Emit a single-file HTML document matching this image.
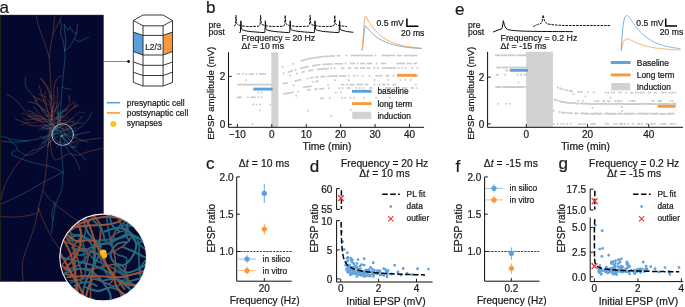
<!DOCTYPE html>
<html lang="en">
<head>
<meta charset="utf-8">
<title>Synaptic plasticity figure</title>
<style>
html,body{margin:0;padding:0;background:#fff;}
body{width:685px;height:307px;overflow:hidden;font-family:'Liberation Sans', sans-serif;}
svg{display:block;will-change:transform;}
svg text{font-family:'Liberation Sans', sans-serif;stroke:#1a1a1a;stroke-width:0.22px;}
</style>
</head>
<body>
<svg width="685" height="307" viewBox="0 0 685 307">
<rect width="685" height="307" fill="#fff"/>
<rect x="0" y="15.1" width="103.3" height="266.2" fill="#05082e" stroke="#02030f" stroke-width="0.5"/>
<rect x="0" y="15.1" width="0.9" height="266.2" fill="#22241f"/>
<clipPath id="ca"><rect x="0.9" y="15.2" width="102.4" height="266"/></clipPath>
<g clip-path="url(#ca)" fill="none" stroke-linecap="round" stroke-linejoin="round">
<path d="M60.5 128 C60.45 126.17 60.08 121.7 60.2 117 C60.32 112.3 60.85 104.82 61.2 99.8 C61.55 94.78 61.93 91.03 62.3 86.9 C62.67 82.77 63.08 78.48 63.4 75 C63.72 71.52 63.92 69 64.2 66 C64.48 63 65.02 59.58 65.1 57 C65.18 54.42 64.77 51.58 64.7 50.5" stroke="#2e90aa" stroke-width="0.5" fill="none" opacity="0.82"/>
<path d="M64.7 50.5 C64.42 48.72 63.72 42.67 63 39.8 C62.28 36.93 60.65 35.45 60.4 33.3 C60.15 31.15 61.5 29.05 61.5 26.9 C61.5 24.75 60.58 21.48 60.4 20.4" stroke="#2e90aa" stroke-width="0.5" fill="none" opacity="0.82"/>
<path d="M64.7 50.5 C64.88 49.08 65.8 45.22 65.8 42 C65.8 38.78 64.97 34.15 64.7 31.2 C64.43 28.25 64.28 25.45 64.2 24.3" stroke="#2e90aa" stroke-width="0.5" fill="none" opacity="0.82"/>
<path d="M64.7 50.5 C65.58 49.78 68.4 48.17 70 46.2 C71.6 44.23 73.22 40.85 74.3 38.7 C75.38 36.55 75.95 35.8 76.5 33.3 C77.05 30.8 77.42 25.3 77.6 23.7" stroke="#2e90aa" stroke-width="0.5" fill="none" opacity="0.82"/>
<path d="M74.3 38.7 C75.02 39.17 76.98 41.38 78.6 41.5 C80.22 41.62 82.32 40.12 84 39.4 C85.68 38.68 87.92 37.57 88.7 37.2" stroke="#2e90aa" stroke-width="0.5" fill="none" opacity="0.82"/>
<path d="M70 26.9 C69.65 27.43 68.87 30.53 67.9 30.1 C66.93 29.67 64.82 25.27 64.2 24.3" stroke="#2e90aa" stroke-width="0.5" fill="none" opacity="0.82"/>
<path d="M76.5 33.3 C76.03 33.13 74.78 33.3 73.7 32.3 C72.62 31.3 70.62 28.13 70 27.3" stroke="#2e90aa" stroke-width="0.5" fill="none" opacity="0.82"/>
<path d="M62.3 86.9 C62.92 87.18 64.57 88.25 66 88.6 C67.43 88.95 70.08 88.93 70.9 89" stroke="#2e90aa" stroke-width="0.5" fill="none" opacity="0.82"/>
<path d="M25.8 77.2 C25.73 78.45 24.87 82.37 25.4 84.7 C25.93 87.03 27.5 89.05 29 91.2 C30.5 93.35 32.62 95.1 34.4 97.6 C36.18 100.1 37.73 103.33 39.7 106.2 C41.67 109.07 44.05 111.75 46.2 114.8 C48.35 117.85 50.63 121.97 52.6 124.5 C54.57 127.03 57.1 129.08 58 130" stroke="#2e90aa" stroke-width="0.5" fill="none" opacity="0.82"/>
<path d="M27.9 115.9 C29.33 116.25 33.98 116.75 36.5 118 C39.02 119.25 40.42 121.57 43 123.4 C45.58 125.23 50.5 128.07 52 129" stroke="#2e90aa" stroke-width="0.5" fill="none" opacity="0.82"/>
<path d="M0 136.3 C1.07 136.48 4.25 136.87 6.4 137.4 C8.55 137.93 9.3 138.98 12.9 139.5 C16.5 140.02 22.65 140.92 28 140.5 C33.35 140.08 40 138.25 45 137 C50 135.75 55.83 133.67 58 133" stroke="#2e90aa" stroke-width="0.5" fill="none" opacity="0.82"/>
<path d="M0 140.9 C2.38 141.13 9.52 142.3 14.3 142.3 C19.08 142.3 26.3 141.13 28.7 140.9" stroke="#2e90aa" stroke-width="0.5" fill="none" opacity="0.82"/>
<path d="M8.6 139.4 C10.03 140.83 16.72 145.6 17.2 148 C17.68 150.4 10.55 151.88 11.5 153.8 C12.45 155.72 18.62 157.83 22.9 159.5 C27.18 161.17 32.42 162.6 37.2 163.8 C41.98 165 47.3 165.27 51.6 166.7 C55.9 168.13 61.1 171.45 63 172.4" stroke="#2e90aa" stroke-width="0.5" fill="none" opacity="0.82"/>
<path d="M63 172.4 C59.67 174.07 49.68 178.82 43 182.4 C36.32 185.98 30.07 190.22 22.9 193.9 C15.73 197.58 3.82 202.73 0 204.5" stroke="#2e90aa" stroke-width="0.5" fill="none" opacity="0.82"/>
<path d="M60 138 C60.27 140.38 61.1 146.57 61.6 152.3 C62.1 158.03 63 166.18 63 172.4 C63 178.62 62.78 184.35 61.6 189.6 C60.42 194.85 57.33 198.65 55.9 203.9 C54.47 209.15 53.48 218.23 53 221.1" stroke="#2e90aa" stroke-width="0.5" fill="none" opacity="0.82"/>
<path d="M54.8 201.4 C54.33 203.45 52.37 210.28 52 213.7 C51.63 217.12 52.68 218.7 52.6 221.9 C52.52 225.1 51.68 231.07 51.5 232.9" stroke="#2e90aa" stroke-width="0.5" fill="none" opacity="0.82"/>
<path d="M58 136 C55.83 137.67 49.88 142.8 45 146 C40.12 149.2 33.37 154.53 28.7 155.2 C24.03 155.87 18.95 150.87 17 150" stroke="#2e90aa" stroke-width="0.5" fill="none" opacity="0.82"/>
<path d="M82.1 116.5 C81.35 117.4 79.25 120.27 77.6 121.9 C75.95 123.53 73.98 124.97 72.2 126.3 C70.42 127.63 68.77 128.95 66.9 129.9 C65.03 130.85 61.98 131.65 61 132" stroke="#2e90aa" stroke-width="0.5" fill="none" opacity="0.82"/>
<path d="M90.1 131.7 C88.62 132 83.88 132.9 81.2 133.5 C78.52 134.1 77.03 135.22 74 135.3 C70.97 135.38 64.83 134.22 63 134" stroke="#2e90aa" stroke-width="0.5" fill="none" opacity="0.82"/>
<path d="M88.3 142.4 C86.97 141.97 82.83 140.68 80.3 139.8 C77.77 138.92 75.98 137.9 73.1 137.1 C70.22 136.3 64.68 135.35 63 135" stroke="#2e90aa" stroke-width="0.5" fill="none" opacity="0.82"/>
<path d="M62 136 C63.33 137.67 67 143 70 146 C73 149 77.33 151.67 80 154 C82.67 156.33 85 159 86 160" stroke="#2e90aa" stroke-width="0.5" fill="none" opacity="0.82"/>
<path d="M64 134 C66 133.33 72.33 132 76 130 C79.67 128 83.33 125 86 122 C88.67 119 91 113.67 92 112" stroke="#2e90aa" stroke-width="0.5" fill="none" opacity="0.82"/>
<path d="M63 138 C63.83 140 65.83 146.33 68 150 C70.17 153.67 74 156.67 76 160 C78 163.33 79.33 168.33 80 170" stroke="#2e90aa" stroke-width="0.5" fill="none" opacity="0.82"/>
<path d="M50.91 141.05 L49.3 142.96 L48.49 145.33" stroke="#2e90aa" stroke-width="0.42" fill="none" opacity="0.82"/>
<path d="M55.21 132.21 L53.53 134.06 L52.58 136.37 L51.46 138.61 L50.91 141.05" stroke="#2e90aa" stroke-width="0.42" fill="none" opacity="0.82"/>
<path d="M61.58 132.05 L59.82 130.27 L58.17 128.39 L56.37 126.66 L54.05 125.72 L51.6 125.21 L49.12 125.49 L46.65 125.11 L44.21 124.56" stroke="#2e90aa" stroke-width="0.42" fill="none" opacity="0.82"/>
<path d="M58.38 127.5 L56.47 129.12 L54.57 130.74 L52.62 132.3 L50.72 133.93" stroke="#2e90aa" stroke-width="0.42" fill="none" opacity="0.82"/>
<path d="M55.99 128.44 L54.82 130.65 L53.52 132.78 L52.17 134.89 L50.44 136.69 L48.14 137.68 L45.92 138.82 L44.12 140.55 L43.1 142.84 L41.61 144.84 L39.57 146.29" stroke="#2e90aa" stroke-width="0.42" fill="none" opacity="0.82"/>
<path d="M58.75 131.64 L57.13 129.74 L54.97 128.49 L52.6 127.68 L50.1 127.76 L47.65 128.25 L45.15 128.36 L42.68 128.01" stroke="#2e90aa" stroke-width="0.42" fill="none" opacity="0.82"/>
<path d="M60.24 142.13 L57.94 143.11 L55.46 143.45" stroke="#2e90aa" stroke-width="0.42" fill="none" opacity="0.82"/>
<path d="M61.53 129.84 L60.82 132.24 L61.02 134.73 L60.67 137.21 L60.84 139.7 L60.24 142.13 L58.94 144.26 L57.79 146.48 L55.99 148.22" stroke="#2e90aa" stroke-width="0.42" fill="none" opacity="0.82"/>
<path d="M55.41 128.86 L57.56 130.14 L59.27 131.96 L61.4 133.27 L63.82 133.89 L66.17 134.73" stroke="#2e90aa" stroke-width="0.42" fill="none" opacity="0.82"/>
<path d="M72.04 147.29 L74.4 146.47 L76.3 144.84 L77.36 142.58" stroke="#2e90aa" stroke-width="0.42" fill="none" opacity="0.82"/>
<path d="M60.87 134.6 L62.36 136.62 L64.47 137.95 L66.03 139.9 L66.91 142.24 L67.99 144.49 L69.76 146.27 L72.04 147.29 L74.53 147.5 L76.91 146.74" stroke="#2e90aa" stroke-width="0.42" fill="none" opacity="0.82"/>
<path d="M55.19 129.02 L53.45 127.22 L51.68 125.46 L49.43 124.36 L47.8 122.46 L45.89 120.85 L44.36 118.87" stroke="#2e90aa" stroke-width="0.42" fill="none" opacity="0.82"/>
<path d="M59.54 131.13 L57.11 130.53 L54.7 129.86 L52.2 129.93 L49.92 130.97 L47.43 131.03" stroke="#2e90aa" stroke-width="0.42" fill="none" opacity="0.82"/>
<path d="M56.09 129.93 L54.98 127.69 L53.39 125.77 L51.86 123.79 L50.57 121.65 L49.83 119.26" stroke="#2e90aa" stroke-width="0.42" fill="none" opacity="0.82"/>
<path d="M60.17 136.37 L62.66 136.1 L65.15 136.23 L67.42 137.29 L69.15 139.1 L70.09 141.42" stroke="#2e90aa" stroke-width="0.42" fill="none" opacity="0.82"/>
<path d="M55.92 130.21 L57.27 132.3 L58.6 134.42 L60.17 136.37 L62.16 137.89 L64.46 138.86 L66.65 140.07 L68.4 141.85 L69.92 143.84 L72.02 145.19 L73.55 147.17" stroke="#2e90aa" stroke-width="0.42" fill="none" opacity="0.82"/>
<path d="M58.02 113.66 L60.22 112.47 L62.51 111.46 L64.77 110.4 L66.64 108.74" stroke="#2e90aa" stroke-width="0.42" fill="none" opacity="0.82"/>
<path d="M57.82 128.43 L58.11 125.94 L57.54 123.51 L57.89 121.04 L58.17 118.55 L57.58 116.12 L58.02 113.66 L57.47 111.22 L57.38 108.73 L57.82 106.26 L59.19 104.18" stroke="#2e90aa" stroke-width="0.42" fill="none" opacity="0.82"/>
<path d="M54.22 128.7 L55.55 126.58 L57.03 124.57 L58.08 122.3 L58.38 119.82 L58.38 117.32 L58.55 114.82 L58.55 112.32 L58.56 109.82" stroke="#2e90aa" stroke-width="0.42" fill="none" opacity="0.82"/>
<path d="M54.15 130.52 L51.72 129.93 L49.49 128.8 L47.03 128.36 L44.63 127.67 L42.14 127.9" stroke="#2e90aa" stroke-width="0.42" fill="none" opacity="0.82"/>
<path d="M49.81 138.45 L49.2 140.88 L48.68 143.32 L48.1 145.75 L46.67 147.81" stroke="#2e90aa" stroke-width="0.42" fill="none" opacity="0.82"/>
<path d="M57.86 133.21 L55.4 133.66 L53.14 134.72 L51.44 136.55 L49.81 138.45 L47.68 139.75 L45.85 141.45 L43.52 142.37 L41.58 143.95" stroke="#2e90aa" stroke-width="0.42" fill="none" opacity="0.82"/>
<path d="M54.58 128.93 L52.52 130.35 L50.73 132.09 L49.57 134.3 L47.69 135.95" stroke="#2e90aa" stroke-width="0.42" fill="none" opacity="0.82"/>
<path d="M56.02 128.1 L54.84 130.3 L52.92 131.9 L51.15 133.66 L48.82 134.57 L46.83 136.09 L44.83 137.59 L43.27 139.54" stroke="#2e90aa" stroke-width="0.42" fill="none" opacity="0.82"/>
<path d="M57.99 118.16 L60.32 117.24 L62.25 115.66" stroke="#2e90aa" stroke-width="0.42" fill="none" opacity="0.82"/>
<path d="M54.16 131.43 L54.15 128.93 L53.89 126.45 L53.67 123.95 L54.41 121.57 L55.93 119.58 L57.99 118.16 L59.95 116.61" stroke="#2e90aa" stroke-width="0.42" fill="none" opacity="0.82"/>
<path d="M59.56 121.64 L58.39 119.44 L56.43 117.88 L54.07 117.07 L51.78 116.05 L49.35 115.5 L46.89 115.97" stroke="#2e90aa" stroke-width="0.42" fill="none" opacity="0.82"/>
<path d="M61.03 116.87 L59.38 114.99 L57.3 113.61 L55.83 111.58" stroke="#2e90aa" stroke-width="0.42" fill="none" opacity="0.82"/>
<path d="M56.07 128.19 L57.25 125.99 L58.79 124.02 L59.56 121.64 L60.18 119.22 L61.03 116.87 L61.95 114.54 L62.76 112.18 L63.1 109.7" stroke="#2e90aa" stroke-width="0.42" fill="none" opacity="0.82"/>
<path d="M54.3 127.15 L56.8 127.17 L59.22 126.54 L61.62 125.87 L63.68 124.45 L65.65 122.91 L67.97 121.98 L70.3 121.07 L72.8 121.14" stroke="#2e90aa" stroke-width="0.42" fill="none" opacity="0.82"/>
<path d="M66.58 130.11 L68.96 130.88 L71.03 132.29 L72.56 134.26 L74.43 135.92 L76.56 137.23" stroke="#2e90aa" stroke-width="0.42" fill="none" opacity="0.82"/>
<path d="M59.65 132.09 L61.66 130.59 L64.08 130 L66.58 130.11 L69.01 129.51 L71.27 128.45 L73.77 128.33 L76.18 127.69" stroke="#2e90aa" stroke-width="0.42" fill="none" opacity="0.82"/>
<path d="M51.6 120 C51.6 116.63 51.78 106.47 51.6 99.8 C51.42 93.13 50.8 85.3 50.5 80 C50.2 74.7 50.02 71.83 49.8 68 C49.58 64.17 49.3 58.83 49.2 57" stroke="#ae5f3b" stroke-width="0.5" fill="none" opacity="0.82"/>
<path d="M49.2 57 C48.38 54.48 46.02 46.92 44.3 41.9 C42.58 36.88 40.23 31.27 38.9 26.9 C37.57 22.53 36.73 17.57 36.3 15.7" stroke="#ae5f3b" stroke-width="0.5" fill="none" opacity="0.82"/>
<path d="M49.2 57 C49.57 54.48 50.78 45.67 51.4 41.9 C52.02 38.13 52.37 38.7 52.9 34.4 C53.43 30.1 54.32 19.15 54.6 16.1" stroke="#ae5f3b" stroke-width="0.5" fill="none" opacity="0.82"/>
<path d="M52.9 34.4 C53.78 32.62 56.77 26.82 58.2 23.7 C59.63 20.58 60.95 17.03 61.5 15.7" stroke="#ae5f3b" stroke-width="0.5" fill="none" opacity="0.82"/>
<path d="M40 78 C40.67 78.83 42.67 81 44 83 C45.33 85 46.87 87.5 48 90 C49.13 92.5 50.33 96.67 50.8 98" stroke="#ae5f3b" stroke-width="0.5" fill="none" opacity="0.82"/>
<path d="M61.5 75.9 C60.95 76.15 59.32 76.1 58.2 77.4 C57.08 78.7 55.55 81.05 54.8 83.7 C54.05 86.35 53.82 90.25 53.7 93.3 C53.58 96.35 54.3 98.88 54.1 102 C53.9 105.12 52.77 110.33 52.5 112" stroke="#ae5f3b" stroke-width="0.5" fill="none" opacity="0.82"/>
<path d="M6.4 94.4 C7.48 94.93 10.57 95.8 12.9 97.6 C15.23 99.4 17.9 102.52 20.4 105.2 C22.9 107.88 25.22 111.2 27.9 113.7 C30.58 116.2 32.82 118.82 36.5 120.2 C40.18 121.58 47.75 121.7 50 122" stroke="#ae5f3b" stroke-width="0.5" fill="none" opacity="0.82"/>
<path d="M15.5 119.1 C16.85 119.63 20.82 121.22 23.6 122.3 C26.38 123.38 28.13 124.98 32.2 125.6 C36.27 126.22 45.37 125.93 48 126" stroke="#ae5f3b" stroke-width="0.5" fill="none" opacity="0.82"/>
<path d="M39.3 85.8 C39.73 87.42 40.75 92.1 41.9 95.5 C43.05 98.9 44.95 102.62 46.2 106.2 C47.45 109.78 48.87 115.2 49.4 117" stroke="#ae5f3b" stroke-width="0.5" fill="none" opacity="0.82"/>
<path d="M40.8 78.3 C41.7 79.37 44.77 82.55 46.2 84.7 C47.63 86.85 48.5 88.68 49.4 91.2 C50.3 93.72 51.23 98.37 51.6 99.8" stroke="#ae5f3b" stroke-width="0.5" fill="none" opacity="0.82"/>
<path d="M29 102 C30.25 102.33 34.17 102.75 36.5 104 C38.83 105.25 41.03 107.5 43 109.5 C44.97 111.5 47.42 114.92 48.3 116" stroke="#ae5f3b" stroke-width="0.5" fill="none" opacity="0.82"/>
<path d="M33.3 106.2 C34.2 107.28 36.73 110.55 38.7 112.7 C40.67 114.85 44.03 118.03 45.1 119.1" stroke="#ae5f3b" stroke-width="0.5" fill="none" opacity="0.82"/>
<path d="M57 87 C57.17 88.42 58.12 92.3 58 95.5 C57.88 98.7 57.05 102.78 56.3 106.2 C55.55 109.62 53.97 114.37 53.5 116" stroke="#ae5f3b" stroke-width="0.5" fill="none" opacity="0.82"/>
<path d="M74 102 C73.13 102.7 70.75 104.6 68.8 106.2 C66.85 107.8 64.45 109.63 62.3 111.6 C60.15 113.57 56.97 116.93 55.9 118" stroke="#ae5f3b" stroke-width="0.5" fill="none" opacity="0.82"/>
<path d="M77.6 104.8 C76.7 105.4 73.98 106.9 72.2 108.4 C70.42 109.9 68.68 112 66.9 113.8 C65.12 115.6 63.15 117.57 61.5 119.2 C59.85 120.83 57.75 122.87 57 123.6" stroke="#ae5f3b" stroke-width="0.5" fill="none" opacity="0.82"/>
<path d="M83 122.8 C81.8 122.93 77.9 123.02 75.8 123.6 C73.7 124.18 72.2 125.4 70.4 126.3 C68.6 127.2 67.4 129.05 65 129 C62.6 128.95 57.5 126.5 56 126" stroke="#ae5f3b" stroke-width="0.5" fill="none" opacity="0.82"/>
<path d="M101.8 138 C100.45 138.15 96.53 138.55 93.7 138.9 C90.87 139.25 88.08 139.6 84.8 140.1 C81.52 140.6 76.98 141.22 74 141.9 C71.02 142.58 69.9 144.52 66.9 144.2 C63.9 143.88 58.48 142.37 56 140 C53.52 137.63 52.67 131.67 52 130" stroke="#ae5f3b" stroke-width="0.5" fill="none" opacity="0.82"/>
<path d="M50 128 C49.75 130.33 48.95 137.47 48.5 142 C48.05 146.53 47.75 150.13 47.3 155.2 C46.85 160.27 46.52 166.67 45.8 172.4 C45.08 178.13 44.18 183.87 43 189.6 C41.82 195.33 40.17 200.5 38.7 206.8 C37.23 213.1 36.08 220.77 34.2 227.4 C32.32 234.03 29.35 240.67 27.4 246.6 C25.45 252.53 23.18 257.18 22.5 263 C21.82 268.82 23.17 278.42 23.3 281.5" stroke="#ae5f3b" stroke-width="0.5" fill="none" opacity="0.82"/>
<path d="M49 135 C48 136.93 45.92 143.95 43 146.6 C40.08 149.25 35.33 148.52 31.5 150.9 C27.67 153.28 23.33 157.32 20 160.9 C16.67 164.48 14.12 168.1 11.5 172.4 C8.88 176.7 6.07 182.17 4.3 186.7 C2.53 191.23 1.47 197.45 0.9 199.6" stroke="#ae5f3b" stroke-width="0.5" fill="none" opacity="0.82"/>
<path d="M50 140 C50.73 143.25 51.27 157.2 54.4 159.5 C57.53 161.8 64.97 154.52 68.8 153.8 C72.63 153.08 74.53 155.45 77.4 155.2 C80.27 154.95 82.67 153.25 86 152.3 C89.33 151.35 94.4 150.22 97.4 149.5 C100.4 148.78 102.9 148.25 104 148" stroke="#ae5f3b" stroke-width="0.5" fill="none" opacity="0.82"/>
<path d="M43 191 C44.67 192.92 49.18 198.92 53 202.5 C56.82 206.08 62.08 209.63 65.9 212.5 C69.72 215.37 72.55 217.45 75.9 219.7 C79.25 221.95 84.32 224.95 86 226" stroke="#ae5f3b" stroke-width="0.5" fill="none" opacity="0.82"/>
<path d="M0 216.6 C2.73 216.67 11.38 217.25 16.4 217 C21.42 216.75 26.53 215.88 30.1 215.1 C33.67 214.32 36.37 213.45 37.8 212.3 C39.23 211.15 38.55 208.88 38.7 208.2" stroke="#ae5f3b" stroke-width="0.5" fill="none" opacity="0.82"/>
<path d="M38.4 208.2 C39.3 210.48 41.75 217.33 43.8 221.9 C45.85 226.47 48.18 231.25 50.7 235.6 C53.22 239.95 56.35 244.6 58.9 248 C61.45 251.4 64.82 254.67 66 256" stroke="#ae5f3b" stroke-width="0.5" fill="none" opacity="0.82"/>
<path d="M50.78 119.01 L48.87 117.4 L46.72 116.12 L44.73 114.61 L43.08 112.73 L41.89 110.53 L40.85 108.26 L39.49 106.16 L37.57 104.56 L36.11 102.52 L35.29 100.17 L34.63 97.75 L34.35 95.27" stroke="#ae5f3b" stroke-width="0.4" fill="none" opacity="0.72"/>
<path d="M38.54 98.75 L36.44 100.09 L34.84 102.02 L32.73 103.36" stroke="#ae5f3b" stroke-width="0.4" fill="none" opacity="0.72"/>
<path d="M45.53 101.19 L43.3 100.06 L41.03 99.02 L38.54 98.75 L36.24 97.79 L33.95 96.78" stroke="#ae5f3b" stroke-width="0.4" fill="none" opacity="0.72"/>
<path d="M52.09 119.87 L50.93 117.65 L50.3 115.24 L49.06 113.06 L47.83 110.89 L47.1 108.5 L46.52 106.06 L46.27 103.58 L45.53 101.19 L44.76 98.81 L44.59 96.32 L44.88 93.83 L45.44 91.4" stroke="#ae5f3b" stroke-width="0.4" fill="none" opacity="0.72"/>
<path d="M56.64 122.64 L58.66 121.17 L60.23 119.23 L61.77 117.26 L63.89 115.92 L65.68 114.19 L67.72 112.74" stroke="#ae5f3b" stroke-width="0.4" fill="none" opacity="0.72"/>
<path d="M49.38 124.46 L51.74 123.64 L54.16 123.01 L56.64 122.64 L59.1 122.21 L61.56 122.66 L64.06 122.77 L66.55 122.84 L68.96 122.15 L71.45 122.34 L73.95 122.33" stroke="#ae5f3b" stroke-width="0.4" fill="none" opacity="0.72"/>
<path d="M64.18 120.43 L65.83 118.56 L67.77 116.98" stroke="#ae5f3b" stroke-width="0.4" fill="none" opacity="0.72"/>
<path d="M49.37 119.54 L51.87 119.68 L54.31 119.15 L56.81 119.2 L59.2 119.94 L61.69 120.2 L64.18 120.43 L66.68 120.52 L69.11 119.93 L71.44 119.04 L73.71 117.98" stroke="#ae5f3b" stroke-width="0.4" fill="none" opacity="0.72"/>
<path d="M39.14 116.02 L36.71 115.39 L34.21 115.39 L31.86 114.56 L29.41 114.05" stroke="#ae5f3b" stroke-width="0.4" fill="none" opacity="0.72"/>
<path d="M49.06 123.44 L46.94 122.11 L44.73 120.95 L43.07 119.08 L41.23 117.39 L39.14 116.02 L37.37 114.25 L35.12 113.16 L32.79 112.25 L30.5 111.24 L28.02 110.96" stroke="#ae5f3b" stroke-width="0.4" fill="none" opacity="0.72"/>
<path d="M49.81 97.59 L51.82 96.1 L54.22 95.4" stroke="#ae5f3b" stroke-width="0.4" fill="none" opacity="0.72"/>
<path d="M52.07 119.83 L51.39 117.43 L51.43 114.93 L51.56 112.43 L51.54 109.93 L51.09 107.47 L50.9 104.98 L50.26 102.57 L49.91 100.09 L49.81 97.59 L49.63 95.1" stroke="#ae5f3b" stroke-width="0.4" fill="none" opacity="0.72"/>
<path d="M49.45 121.05 L47.28 119.82 L44.99 118.81 L42.99 117.31 L40.6 116.59 L38.15 116.06 L35.65 116.06 L33.19 115.6" stroke="#ae5f3b" stroke-width="0.4" fill="none" opacity="0.72"/>
<path d="M50.8 123.12 L50.63 120.63 L51.16 118.18 L51.5 115.71 L51.71 113.22 L52.47 110.84 L52.58 108.34 L53.15 105.9 L54.5 103.8 L55.15 101.38" stroke="#ae5f3b" stroke-width="0.4" fill="none" opacity="0.72"/>
<path d="M69.77 99.77 L69.06 97.37 L67.55 95.38" stroke="#ae5f3b" stroke-width="0.4" fill="none" opacity="0.72"/>
<path d="M65.04 111.05 L66.63 109.12 L67.93 106.98 L68.61 104.58 L69.53 102.25 L69.77 99.77 L70.08 97.29 L69.99 94.79" stroke="#ae5f3b" stroke-width="0.4" fill="none" opacity="0.72"/>
<path d="M74.32 107.6 L74.77 105.14 L74.73 102.64" stroke="#ae5f3b" stroke-width="0.4" fill="none" opacity="0.72"/>
<path d="M51.64 121.81 L53.88 120.7 L55.72 119.01 L57.09 116.92 L58.72 115.02 L60.63 113.41 L62.82 112.19 L65.04 111.05 L67.48 110.49 L69.92 109.97 L72.06 108.67 L74.32 107.6 L76.52 106.41 L78.71 105.22" stroke="#ae5f3b" stroke-width="0.4" fill="none" opacity="0.72"/>
<path d="M50.81 121.38 L52.73 119.77 L54.89 118.51 L57.05 117.27 L59.51 116.81 L62.01 116.92 L64.48 116.54" stroke="#ae5f3b" stroke-width="0.4" fill="none" opacity="0.72"/>
<path d="M45.84 110.59 L43.48 109.78 L41.43 108.35" stroke="#ae5f3b" stroke-width="0.4" fill="none" opacity="0.72"/>
<path d="M51.98 114.76 L49.73 113.66 L47.98 111.88 L45.84 110.59 L43.94 108.97 L42.62 106.85 L40.86 105.07" stroke="#ae5f3b" stroke-width="0.4" fill="none" opacity="0.72"/>
<path d="M52.3 112.28 L54.27 110.74 L55.73 108.72 L56.53 106.34" stroke="#ae5f3b" stroke-width="0.4" fill="none" opacity="0.72"/>
<path d="M53.76 121.97 L52.94 119.61 L52.1 117.26 L51.98 114.76 L52.3 112.28 L52.48 109.79 L52.77 107.3 L52.84 104.81 L52.57 102.32" stroke="#ae5f3b" stroke-width="0.4" fill="none" opacity="0.72"/>
<path d="M45.15 119.16 L42.94 117.99 L40.47 117.61 L38 118.01 L35.64 118.84 L33.15 118.96 L30.7 119.49 L28.22 119.82 L25.72 119.75" stroke="#ae5f3b" stroke-width="0.4" fill="none" opacity="0.72"/>
<path d="M28.55 122.73 L26.98 120.79 L25.17 119.06 L23.16 117.57" stroke="#ae5f3b" stroke-width="0.4" fill="none" opacity="0.72"/>
<path d="M42.67 118.83 L40.55 120.16 L38.26 121.15 L35.99 122.2 L33.55 122.75 L31.05 122.74 L28.55 122.73 L26.06 122.98 L23.76 123.95 L21.32 124.5" stroke="#ae5f3b" stroke-width="0.4" fill="none" opacity="0.72"/>
<path d="M40.21 119.28 L38.11 117.92 L36.61 115.92 L34.8 114.2 L32.57 113.07 L30.53 111.62 L28.25 110.59" stroke="#ae5f3b" stroke-width="0.4" fill="none" opacity="0.72"/>
<path d="M52.53 120.17 L50.04 119.91 L47.54 119.89 L45.15 119.16 L42.67 118.83 L40.21 119.28 L37.72 119.51 L35.23 119.3 L32.78 118.8 L30.53 117.71 L28.33 116.52 L26.37 114.97 L24.16 113.8 L21.73 113.22" stroke="#ae5f3b" stroke-width="0.4" fill="none" opacity="0.72"/>
<path d="M50.63 121.38 L51.23 118.95 L51.35 116.45 L52.02 114.04 L53.48 112.01 L54.9 109.96 L56.78 108.31 L58.02 106.14 L58.63 103.71 L60.01 101.63" stroke="#ae5f3b" stroke-width="0.4" fill="none" opacity="0.72"/>
<path d="M65.07 126.96 L67.44 126.15 L69.72 125.12 L72.08 124.3 L74.09 122.81 L75.49 120.74" stroke="#ae5f3b" stroke-width="0.4" fill="none" opacity="0.72"/>
<path d="M58.29 123.99 L60.48 125.21 L62.93 125.67 L65.07 126.96 L67.22 128.24 L69.44 129.38 L71.52 130.78 L73.56 132.22 L75.7 133.51 L77.27 135.46" stroke="#ae5f3b" stroke-width="0.4" fill="none" opacity="0.72"/>
<path d="M60.79 124.14 L62.29 126.14 L62.99 128.54 L63.93 130.85 L64.47 133.29 L65.84 135.39 L67.31 137.41 L68.91 139.33 L70.57 141.2 L72.77 142.39 L74.84 143.79" stroke="#ae5f3b" stroke-width="0.4" fill="none" opacity="0.72"/>
<path d="M79.38 112.21 L81.88 112.21 L84.3 112.84" stroke="#ae5f3b" stroke-width="0.4" fill="none" opacity="0.72"/>
<path d="M50.86 124.2 L53.31 123.7 L55.81 123.7 L58.29 123.99 L60.79 124.14 L63.22 123.55 L65.58 122.74 L67.67 121.36 L69.77 120.01 L71.42 118.12 L73.43 116.65 L75.08 114.77 L77.24 113.5 L79.38 112.21" stroke="#ae5f3b" stroke-width="0.4" fill="none" opacity="0.72"/>
<path d="M50.08 105.51 L47.82 104.44 L45.64 103.21 L43.51 101.9 L41.22 100.9 L38.99 99.76 L36.91 98.38" stroke="#ae5f3b" stroke-width="0.4" fill="none" opacity="0.72"/>
<path d="M49.67 103.04 L51.2 101.07 L53.1 99.44 L54.95 97.75 L56.76 96.03" stroke="#ae5f3b" stroke-width="0.4" fill="none" opacity="0.72"/>
<path d="M45.33 97.01 L43.29 95.57 L41.25 94.12" stroke="#ae5f3b" stroke-width="0.4" fill="none" opacity="0.72"/>
<path d="M52.07 120.18 L52.41 117.7 L52.25 115.21 L51.9 112.73 L51.35 110.29 L50.37 107.99 L50.08 105.51 L49.67 103.04 L48.63 100.77 L46.97 98.9 L45.33 97.01 L43.18 95.74 L40.92 94.67 L38.46 94.21" stroke="#ae5f3b" stroke-width="0.4" fill="none" opacity="0.72"/>
<path d="M52.89 126.89 L50.67 128.04 L48.22 128.53 L45.87 129.39 L43.4 129.73 L40.9 129.68" stroke="#ae5f3b" stroke-width="0.4" fill="none" opacity="0.7"/>
<path d="M52.16 123.51 L49.83 124.42 L47.68 125.7 L45.3 126.45 L42.91 127.2 L40.74 128.43 L38.56 129.66" stroke="#ae5f3b" stroke-width="0.4" fill="none" opacity="0.7"/>
<path d="M49.59 122.97 L51.86 124.01 L53.75 125.65 L55.97 126.8 L58.42 127.29 L60.81 128.02 L62.92 129.37" stroke="#ae5f3b" stroke-width="0.4" fill="none" opacity="0.7"/>
<path d="M44.54 136.97 L42.04 137 L39.57 136.58" stroke="#ae5f3b" stroke-width="0.4" fill="none" opacity="0.7"/>
<path d="M53.8 122.63 L53.03 125.01 L52.44 127.44 L51.35 129.69 L49.55 131.42 L47.93 133.33 L46.39 135.3 L44.54 136.97 L43.05 138.98" stroke="#ae5f3b" stroke-width="0.4" fill="none" opacity="0.7"/>
<path d="M51.12 131.66 L53.18 133.07 L55.38 134.25" stroke="#ae5f3b" stroke-width="0.4" fill="none" opacity="0.7"/>
<path d="M51.01 124.18 L50.81 126.68 L51.1 129.16 L51.12 131.66 L51.63 134.11" stroke="#ae5f3b" stroke-width="0.4" fill="none" opacity="0.7"/>
<path d="M51.35 135.53 L53.55 136.72 L55.92 137.52" stroke="#ae5f3b" stroke-width="0.4" fill="none" opacity="0.7"/>
<path d="M49.73 125.74 L49.73 128.24 L50.59 130.59 L50.92 133.07 L51.35 135.53 L52.59 137.7 L53.74 139.92 L54.65 142.25" stroke="#ae5f3b" stroke-width="0.4" fill="none" opacity="0.7"/>
<circle cx="62.7" cy="134.6" r="10.8" stroke="#e9e9f2" stroke-width="0.7"/>
<circle cx="62.0" cy="135.8" r="0.9" fill="#f4c022" stroke="none"/>
</g>
<clipPath id="ci"><circle cx="103.2" cy="257.5" r="43.4"/></clipPath>
<circle cx="103.2" cy="257.5" r="43.4" fill="#070a31"/>
<g clip-path="url(#ci)" fill="none" stroke-linecap="round" stroke-linejoin="round">
<path d="M148.99 286.12 C145.93 285.97 135.1 287.45 130.65 285.26 C126.19 283.07 128.31 277.32 122.26 272.98 C116.2 268.63 101.52 264.23 94.32 259.19 C87.12 254.14 83.58 245.88 79.05 242.68 C74.52 239.49 69.13 240.45 67.15 240.01" stroke="#215f76" stroke-width="1.6180240448687173" fill="none" />
<path d="M133.75 215.81 C130.85 218.06 120.09 224.46 116.32 229.29 C112.55 234.11 113.78 242.93 111.14 244.77 C108.49 246.62 105.43 237.32 100.47 240.35 C95.51 243.39 87.17 257.97 81.36 262.99 C75.55 268.01 68.24 269.24 65.62 270.49" stroke="#215f76" stroke-width="1.9637378157140302" fill="none" />
<path d="M151.33 282.73 C149.51 281.69 142.5 280 140.44 276.45 C138.39 272.91 139.47 267.62 139 261.46 C138.53 255.31 140.45 245.29 137.63 239.53 C134.81 233.76 125.52 231.73 122.06 226.88 C118.61 222.03 117.76 213.18 116.9 210.44" stroke="#215f76" stroke-width="1.7367939437925726" fill="none" />
<path d="M129.36 213.72 C129.15 216.4 127.16 225.2 128.1 229.81 C129.05 234.42 131.62 237.37 135.05 241.37 C138.48 245.38 147.85 249.16 148.7 253.83 C149.55 258.5 140.75 263.22 140.14 269.37 C139.53 275.52 144.2 287.16 145.01 290.72" stroke="#215f76" stroke-width="1.6525557982163694" fill="none" />
<path d="M110.29 210.11 C109.73 211.62 106.28 212.37 106.91 219.2 C107.55 226.04 110.83 244.6 114.08 251.14 C117.33 257.68 124.54 254.45 126.42 258.45 C128.29 262.44 124.18 268.28 125.33 275.11 C126.48 281.94 131.99 295.37 133.32 299.42" stroke="#215f76" stroke-width="1.677915377303676" fill="none" />
<path d="M148.82 228.67 C144.6 228.13 127.16 224.19 123.47 225.43 C119.79 226.68 130.65 233.64 126.72 236.15 C122.79 238.66 106.29 240.02 99.9 240.49 C93.51 240.97 93.33 240.12 88.39 238.97 C83.45 237.83 73.29 234.5 70.26 233.6" stroke="#215f76" stroke-width="1.8486459407307592" fill="none" />
<path d="M142.22 293.34 C138.21 289.8 123.99 275.21 118.12 272.11 C112.26 269.02 110.62 278 107.04 274.77 C103.45 271.55 101.62 256.17 96.61 252.79 C91.61 249.41 81.31 257.84 77.01 254.5 C72.7 251.16 71.82 236.37 70.78 232.74" stroke="#215f76" stroke-width="1.722071119740588" fill="none" />
<path d="M155.77 273.63 C151.38 273.84 135.98 272.74 129.42 274.88 C122.86 277.02 121.87 285.85 116.42 286.46 C110.96 287.06 100.68 280.01 96.71 278.53 C92.74 277.04 97.04 277.18 92.57 277.56 C88.11 277.94 73.7 280.27 69.93 280.81" stroke="#215f76" stroke-width="1.5296697618894621" fill="none" />
<path d="M71.08 282.74 C73.41 281.45 83 281.36 85.05 275.01 C87.11 268.67 83.48 251.42 83.43 244.68 C83.37 237.93 83.64 238.66 84.73 234.54 C85.83 230.43 87.11 223.9 89.99 219.98 C92.87 216.05 100.01 212.49 102.02 211" stroke="#215f76" stroke-width="1.6209310831085375" fill="none" />
<path d="M131.84 236.79 C130.23 238.43 127.13 243.58 122.22 246.65 C117.32 249.73 109.62 254.86 102.39 255.25 C95.16 255.64 86.64 246.3 78.83 249 C71.02 251.69 61.38 267.78 55.53 271.4 C49.67 275.01 45.65 270.82 43.68 270.7" stroke="#8c4b33" stroke-width="1.5256368625574763" fill="none" />
<path d="M63.03 217.98 C63.69 221.36 65.24 233.32 67 238.28 C68.75 243.24 71.11 241.02 73.57 247.76 C76.02 254.5 82.61 270.65 81.71 278.73 C80.81 286.8 68.42 292.01 68.15 296.23 C67.88 300.44 78.08 302.72 80.07 304.01" stroke="#8c4b33" stroke-width="1.6682947922356601" fill="none" />
<path d="M127.37 229.39 C124.68 230.8 113.24 232.57 111.25 237.83 C109.26 243.1 115.57 253.4 115.41 260.97 C115.26 268.54 114.14 280.09 110.31 283.23 C106.48 286.38 95.69 276.24 92.42 279.84 C89.16 283.45 91.01 300.7 90.72 304.88" stroke="#8c4b33" stroke-width="1.5222719847962252" fill="none" />
<path d="M124.58 289.04 C123.51 287.68 121.64 285.53 118.17 280.84 C114.7 276.15 106.97 266.13 103.76 260.91 C100.55 255.69 99.48 255.46 98.91 249.53 C98.34 243.6 102.26 231.91 100.35 225.35 C98.43 218.78 89.6 212.67 87.45 210.13" stroke="#8c4b33" stroke-width="1.9382117921759898" fill="none" />
<path d="M49.91 230.98 C51.35 232.26 52.37 235.08 58.55 238.61 C64.73 242.15 82.13 247.15 87 252.2 C91.86 257.24 82.23 266.87 87.72 268.87 C93.21 270.87 113.01 261.86 119.93 264.19 C126.85 266.52 127.69 279.75 129.24 282.86" stroke="#8c4b33" stroke-width="1.5170915748753657" fill="none" />
<path d="M71.43 301.44 C70.19 297.19 63.38 280.57 64.01 275.91 C64.64 271.25 73.59 278.38 75.21 273.5 C76.83 268.63 72.7 252.96 73.72 246.65 C74.73 240.35 81.12 241.41 81.31 235.69 C81.49 229.96 75.91 216.22 74.83 212.33" stroke="#8c4b33" stroke-width="1.8936937413236776" fill="none" />
<path d="M82.86 213.1 C83.38 215.68 84.41 224.45 85.96 228.58 C87.51 232.7 89.57 235.28 92.15 237.86 C94.73 240.44 97.83 243.54 101.44 244.06 C105.05 244.57 109.7 242.51 113.82 240.96 C117.95 239.41 122.08 235.28 126.21 234.77 C130.34 234.25 134.72 235.8 138.59 237.86 C142.46 239.93 147.62 245.6 149.43 247.15" stroke="#246c84" stroke-width="2.0" fill="none" />
<path d="M101.44 244.06 C100.92 246.12 99.89 252.31 98.34 256.44 C96.8 260.57 94.22 264.7 92.15 268.82 C90.09 272.95 87.51 277.08 85.96 281.21 C84.41 285.34 82.86 289.72 82.86 293.59 C82.86 297.46 85.44 302.62 85.96 304.43" stroke="#246c84" stroke-width="2.0" fill="none" />
<path d="M104.54 231.67 C106.6 231.05 112.79 227.96 116.92 227.96 C121.05 227.96 126.1 228.99 129.3 231.67 C132.5 234.36 135.6 239.93 136.11 244.06 C136.63 248.18 134.57 252.93 132.4 256.44 C130.23 259.95 126.21 264.18 123.11 265.11 C120.02 266.04 115.89 263.97 113.82 262.01 C111.76 260.05 110.21 256.34 110.73 253.34 C111.24 250.35 114.24 245.91 116.92 244.06 C119.6 242.2 125.18 242.51 126.83 242.2" stroke="#246c84" stroke-width="2.0" fill="none" />
<path d="M95.25 265.73 C97.31 266.76 103.5 269.34 107.63 271.92 C111.76 274.5 115.89 278.11 120.02 281.21 C124.14 284.3 128.27 288.33 132.4 290.5 C136.53 292.66 142.72 293.59 144.78 294.21" stroke="#246c84" stroke-width="2.0" fill="none" />
<path d="M72.03 247.77 C73.83 248.29 79.51 250.97 82.86 250.87 C86.22 250.76 89.06 248.29 92.15 247.15 C95.25 246.02 99.89 244.57 101.44 244.06" stroke="#246c84" stroke-width="2.0" fill="none" />
<path d="M64.29 273.47 C66.87 272.69 75.12 269.08 79.77 268.82 C84.41 268.57 88.02 269.34 92.15 271.92 C96.28 274.5 101.44 280.18 104.54 284.3 C107.63 288.43 110.21 293.08 110.73 296.69 C111.24 300.3 108.15 304.43 107.63 305.98" stroke="#246c84" stroke-width="2.0" fill="none" />
<path d="M116.92 265.73 C118.47 266.86 122.6 272.02 126.21 272.54 C129.82 273.05 134.72 270.58 138.59 268.82 C142.46 267.07 147.62 263.15 149.43 262.01" stroke="#246c84" stroke-width="2.0" fill="none" />
<path d="M85.96 287.4 C88.02 288.02 94.22 291.11 98.34 291.11 C102.47 291.11 106.6 286.99 110.73 287.4 C114.86 287.81 120.02 290.75 123.11 293.59 C126.21 296.43 128.27 302.62 129.3 304.43" stroke="#246c84" stroke-width="2.0" fill="none" />
<path d="M123.11 247.15 C124.66 247.77 129.05 249.32 132.4 250.87 C135.75 252.41 140.4 255.1 143.24 256.44 C146.07 257.78 148.4 258.5 149.43 258.92" stroke="#246c84" stroke-width="2.0" fill="none" />
<path d="M55 247.15 C56.03 245.6 58.87 240.44 61.19 237.86 C63.51 235.28 65.84 233.99 68.93 231.67 C72.03 229.35 75.9 226 79.77 223.93 C83.64 221.87 87.51 220.47 92.15 219.29 C96.8 218.1 102.47 216.81 107.63 216.81 C112.79 216.81 118.36 217.74 123.11 219.29 C127.86 220.84 131.99 223.11 136.11 226.1 C140.24 229.09 145.92 235.39 147.88 237.24" stroke="#9c5438" stroke-width="2.0" fill="none" />
<path d="M59.64 229.2 C61.97 228.89 68.67 227.96 73.58 227.34 C78.48 226.72 83.9 225.89 89.06 225.48 C94.22 225.07 99.89 225.38 104.54 224.86 C109.18 224.34 112.79 223.93 116.92 222.38 C121.05 220.84 127.24 216.71 129.3 215.57" stroke="#9c5438" stroke-width="2.0" fill="none" />
<path d="M94.63 240.96 C94.58 243.02 94.47 249.22 94.32 253.34 C94.16 257.47 94.16 261.6 93.7 265.73 C93.24 269.86 92.56 273.98 91.53 278.11 C90.5 282.24 88.69 286.11 87.51 290.5 C86.32 294.88 84.93 302.11 84.41 304.43" stroke="#9c5438" stroke-width="2.0" fill="none" />
<path d="M94.63 240.96 C95.25 242.25 96.95 246.12 98.34 248.7 C99.74 251.28 101.44 253.34 102.99 256.44 C104.54 259.54 105.83 263.92 107.63 267.28 C109.44 270.63 111.5 273.98 113.82 276.56 C116.15 279.14 117.95 281.36 121.56 282.76 C125.18 284.15 130.85 284.92 135.5 284.92 C140.14 284.92 147.11 283.12 149.43 282.76" stroke="#9c5438" stroke-width="2.0" fill="none" />
<path d="M67.38 277.18 C71 276.98 82.86 276.05 89.06 275.94 C95.25 275.84 99.38 276.36 104.54 276.56 C109.7 276.77 114.86 277.65 120.02 277.18 C125.18 276.72 130.59 275.17 135.5 273.78 C140.4 272.38 147.11 269.65 149.43 268.82" stroke="#9c5438" stroke-width="2.0" fill="none" />
<path d="M58.1 250.25 C59.39 252.31 63.51 258.5 65.84 262.63 C68.16 266.76 69.71 270.89 72.03 275.02 C74.35 279.14 77.45 283.01 79.77 287.4 C82.09 291.79 84.93 299.01 85.96 301.33" stroke="#9c5438" stroke-width="2.0" fill="none" />
<path d="M68.93 238.48 C70.74 237.86 76.41 234.36 79.77 234.77 C83.12 235.18 86.48 237.86 89.06 240.96 C91.64 244.06 94.73 248.7 95.25 253.34 C95.76 257.99 92.67 266.24 92.15 268.82" stroke="#246c84" stroke-width="1.8" fill="none" />
<path d="M109.18 213.72 C109.7 215.68 110.47 222.49 112.28 225.48 C114.08 228.47 118.73 230.64 120.02 231.67" stroke="#246c84" stroke-width="1.8" fill="none" />
<path d="M58.72 257.06 C60.68 257.47 66.46 258.61 70.48 259.54 C74.5 260.46 78.74 261.6 82.86 262.63 C86.99 263.66 93.18 265.21 95.25 265.73" stroke="#246c84" stroke-width="1.8" fill="none" />
<path d="M101.44 281.21 C103.5 280.79 109.59 278.63 113.82 278.73 C118.05 278.83 122.7 281.83 126.83 281.83 C130.95 281.83 135.08 279.09 138.59 278.73 C142.1 278.37 146.33 279.5 147.88 279.66" stroke="#246c84" stroke-width="1.8" fill="none" />
<path d="M127.76 222.38 C127.39 224.19 125.33 230.12 125.59 233.22 C125.85 236.32 128.68 239.67 129.3 240.96" stroke="#246c84" stroke-width="1.8" fill="none" />
<path d="M74.2 285.85 C76.16 285.18 82.19 281.83 85.96 281.83 C89.73 281.83 94.99 285.18 96.8 285.85" stroke="#246c84" stroke-width="1.8" fill="none" />
<path d="M93.7 220.84 C94.99 222.13 99.63 225.48 101.44 228.58 C103.25 231.67 104.02 237.61 104.54 239.41" stroke="#246c84" stroke-width="1.8" fill="none" />
<path d="M118.47 288.95 C118.98 290.24 121.82 294.11 121.56 296.69 C121.31 299.27 117.69 303.14 116.92 304.43" stroke="#246c84" stroke-width="1.8" fill="none" />
<path d="M136.11 244.06 C137.56 243.54 142.31 241.22 144.78 240.96 C147.26 240.7 149.94 242.25 150.98 242.51" stroke="#246c84" stroke-width="1.8" fill="none" />
<path d="M64.29 240.96 C65.32 243.02 68.93 249.22 70.48 253.34 C72.03 257.47 72.54 261.08 73.58 265.73 C74.61 270.37 75.9 275.79 76.67 281.21 C77.45 286.63 77.96 295.4 78.22 298.24" stroke="#9c5438" stroke-width="1.9" fill="none" />
<path d="M67.38 234.77 C68.93 235.8 73.58 240.03 76.67 240.96 C79.77 241.89 82.97 240.34 85.96 240.34 C88.95 240.34 93.18 240.86 94.63 240.96" stroke="#9c5438" stroke-width="1.9" fill="none" />
<path d="M61.19 265.73 C62.74 266.76 67.9 268.82 70.48 271.92 C73.06 275.02 76.16 280.18 76.67 284.3 C77.19 288.43 74.09 294.62 73.58 296.69" stroke="#9c5438" stroke-width="1.9" fill="none" />
<path d="M78.22 222.38 C78.74 224.45 81.06 230.64 81.32 234.77 C81.57 238.9 81.06 243.02 79.77 247.15 C78.48 251.28 76.16 255.92 73.58 259.54 C71 263.15 65.84 267.28 64.29 268.82" stroke="#9c5438" stroke-width="1.9" fill="none" />
<path d="M113.82 276.56 C114.34 278.37 114.86 284.3 116.92 287.4 C118.98 290.5 122.6 294.11 126.21 295.14 C129.82 296.17 136.53 293.85 138.59 293.59" stroke="#9c5438" stroke-width="1.9" fill="none" />
<path d="M85.96 219.29 C86.73 220.84 89.16 224.96 90.6 228.58 C92.05 232.19 93.96 238.9 94.63 240.96" stroke="#9c5438" stroke-width="1.9" fill="none" />
<circle cx="103.2" cy="252.8" r="3.3" fill="#f7c41d" stroke="none"/>
<circle cx="104.3" cy="255.6" r="2.8" fill="#f0b414" stroke="none"/>
</g>
<circle cx="103.2" cy="257.5" r="43.4" fill="none" stroke="#f2f2f2" stroke-width="1.1"/>
<line x1="103.6" y1="61.5" x2="128.2" y2="61.5" stroke="#555" stroke-width="0.7" />
<circle cx="128.6" cy="61.5" r="1.4" fill="#111"/>
<path d="M133.3 20.5 L143 15 L163.1 15 L172.5 20.5 L172.5 82.4 L163.1 86 L143 86 L133.3 82.4 Z" fill="#fff" stroke="none"/>
<path d="M133.3 32.1 L143 35.4 L143 55 L133.3 51.5 Z" fill="#5b9fdc"/>
<path d="M163.1 35.4 L172.5 32.1 L172.5 51.5 L163.1 55 Z" fill="#f79a3e"/>
<path d="M133.3 20.5 L143 15 L163.1 15 L172.5 20.5 L163.1 25.8 L143 25.8 Z M133.3 20.5 L133.3 82.4 M172.5 20.5 L172.5 82.4 M143 25.8 L143 86 M163.1 25.8 L163.1 86 M133.3 32.1 L143 35.4 L163.1 35.4 L172.5 32.1 M133.3 51.5 L143 55 L163.1 55 L172.5 51.5 M133.3 62 L143 65.3 L163.1 65.3 L172.5 62 M133.3 72.2 L143 75.5 L163.1 75.5 L172.5 72.2 M133.3 82.4 L143 86 L163.1 86 L172.5 82.4" stroke="#222" stroke-width="0.9" fill="none" stroke-linejoin="round"/>
<text x="153.4" y="49.6" font-size="8.5" text-anchor="middle" fill="#333" >L2/3</text>
<line x1="106.8" y1="102.7" x2="119.9" y2="102.7" stroke="#5b9fdc" stroke-width="1.6" />
<line x1="106.8" y1="112.9" x2="119.9" y2="112.9" stroke="#f79a3e" stroke-width="1.6" />
<circle cx="113.3" cy="123.9" r="2.9" fill="#f5c518"/>
<text x="126.8" y="105.6" font-size="8.4" text-anchor="start" fill="#1a1a1a" >presynaptic cell</text>
<text x="126.8" y="115.9" font-size="8.4" text-anchor="start" fill="#1a1a1a" >postsynaptic cell</text>
<text x="126.8" y="126.3" font-size="8.4" text-anchor="start" fill="#1a1a1a" >synapses</text>
<text x="-0.4" y="12.5" font-size="17" text-anchor="start" fill="#1a1a1a" >a</text>
<rect x="271.3" y="52.3" width="7" height="75" fill="#d2d2d2"/>
<line x1="237.2" y1="84.6" x2="271.3" y2="84.6" stroke="#cbcbcb" stroke-width="1.7" />
<path d="M237.6 73.9h0.01M239.32 73.9h0.01M242.76 73.9h0.01M246.2 73.9h0.01M249.64 73.9h0.01M251.36 73.9h0.01M253.08 73.9h0.01M256.52 73.9h0.01M259.96 73.9h0.01M261.68 73.9h0.01M263.4 73.9h0.01M265.12 73.9h0.01M246.2 80.3h0.01M258.24 92.6h0.01M261.68 92.6h0.01M237.6 97.3h0.01M239.32 97.3h0.01M241.04 97.3h0.01M247.92 97.3h0.01M251.36 97.3h0.01M253.08 97.3h0.01M254.8 97.3h0.01M258.24 97.3h0.01M261.68 97.3h0.01M253.08 104.5h0.01M256.52 104.5h0.01M259.96 104.5h0.01M270.28 104.5h0.01M259.96 110.3h0.01M252.4 124h0.01M282.53 66.74h0.01M292.85 63.63h0.01M301.45 60.81h0.01M303.17 60.31h0.01M304.89 59.84h0.01M306.61 59.4h0.01M308.33 58.98h0.01M310.05 58.6h0.01M311.77 58.25h0.01M313.49 57.93h0.01M315.21 57.64h0.01M316.93 57.38h0.01M318.65 57.14h0.01M320.37 56.93h0.01M322.09 56.74h0.01M323.81 56.57h0.01M325.53 56.43h0.01M327.25 56.3h0.01M328.97 56.18h0.01M330.69 56.08h0.01M332.41 56h0.01M334.13 55.92h0.01M337.57 55.8h0.01M339.29 55.75h0.01M346.17 55.62h0.01M351.33 55.57h0.01M353.05 55.56h0.01M354.77 55.55h0.01M356.49 55.54h0.01M358.21 55.53h0.01M359.93 55.52h0.01M361.65 55.52h0.01M363.37 55.52h0.01M365.09 55.51h0.01M366.81 55.51h0.01M368.53 55.51h0.01M370.25 55.51h0.01M371.97 55.51h0.01M375.41 55.5h0.01M382.29 55.5h0.01M384.01 55.5h0.01M385.73 55.5h0.01M387.45 55.5h0.01M389.17 55.5h0.01M390.89 55.5h0.01M392.61 55.5h0.01M394.33 55.5h0.01M397.77 55.5h0.01M399.49 55.5h0.01M401.21 55.5h0.01M404.65 55.5h0.01M406.37 55.5h0.01M408.09 55.5h0.01M409.81 55.5h0.01M411.53 55.5h0.01M413.25 55.5h0.01M414.97 55.5h0.01M416.69 55.5h0.01M283.64 73.22h0.01M288.8 71.89h0.01M290.52 71.39h0.01M292.24 70.87h0.01M295.68 69.83h0.01M300.84 68.36h0.01M302.56 67.91h0.01M304.28 67.48h0.01M306 67.08h0.01M307.72 66.71h0.01M312.88 65.75h0.01M314.6 65.48h0.01M316.32 65.24h0.01M318.04 65.02h0.01M319.76 64.83h0.01M323.2 64.5h0.01M324.92 64.36h0.01M326.64 64.24h0.01M328.36 64.14h0.01M330.08 64.04h0.01M331.8 63.96h0.01M335.24 63.83h0.01M336.96 63.78h0.01M338.68 63.74h0.01M340.4 63.7h0.01M342.12 63.67h0.01M345.56 63.62h0.01M350.72 63.57h0.01M352.44 63.55h0.01M354.16 63.54h0.01M357.6 63.53h0.01M361.04 63.52h0.01M362.76 63.52h0.01M364.48 63.51h0.01M367.92 63.51h0.01M369.64 63.51h0.01M371.36 63.51h0.01M376.52 63.5h0.01M381.68 63.5h0.01M383.4 63.5h0.01M385.12 63.5h0.01M397.16 63.5h0.01M398.88 63.5h0.01M400.6 63.5h0.01M402.32 63.5h0.01M404.04 63.5h0.01M407.48 63.5h0.01M409.2 63.5h0.01M410.92 63.5h0.01M414.36 63.5h0.01M416.08 63.5h0.01M290.18 75.4h0.01M297.06 73.49h0.01M302.22 72.16h0.01M303.94 71.76h0.01M309.1 70.71h0.01M310.82 70.41h0.01M312.54 70.13h0.01M317.7 69.45h0.01M319.42 69.26h0.01M321.14 69.1h0.01M322.86 68.95h0.01M324.58 68.82h0.01M326.3 68.71h0.01M328.02 68.61h0.01M331.46 68.44h0.01M334.9 68.32h0.01M341.78 68.16h0.01M343.5 68.13h0.01M348.66 68.08h0.01M350.38 68.06h0.01M355.54 68.03h0.01M357.26 68.03h0.01M360.7 68.02h0.01M362.42 68.02h0.01M364.14 68.01h0.01M367.58 68.01h0.01M369.3 68.01h0.01M374.46 68h0.01M377.9 68h0.01M383.06 68h0.01M384.78 68h0.01M386.5 68h0.01M388.22 68h0.01M389.94 68h0.01M391.66 68h0.01M393.38 68h0.01M395.1 68h0.01M398.54 68h0.01M401.98 68h0.01M405.42 68h0.01M412.3 68h0.01M417.46 68h0.01M283.42 83.59h0.01M285.14 83.28h0.01M286.86 82.93h0.01M295.46 80.91h0.01M297.18 80.5h0.01M298.9 80.1h0.01M300.62 79.72h0.01M307.5 78.39h0.01M310.94 77.86h0.01M312.66 77.62h0.01M316.1 77.21h0.01M317.82 77.04h0.01M321.26 76.74h0.01M322.98 76.61h0.01M324.7 76.5h0.01M328.14 76.32h0.01M329.86 76.24h0.01M331.58 76.18h0.01M333.3 76.12h0.01M335.02 76.07h0.01M336.74 76.03h0.01M340.18 75.96h0.01M341.9 75.94h0.01M343.62 75.91h0.01M345.34 75.89h0.01M348.78 75.86h0.01M353.94 75.84h0.01M357.38 75.82h0.01M362.54 75.81h0.01M369.42 75.81h0.01M376.3 75.8h0.01M378.02 75.8h0.01M379.74 75.8h0.01M381.46 75.8h0.01M386.62 75.8h0.01M388.34 75.8h0.01M393.5 75.8h0.01M398.66 75.8h0.01M402.1 75.8h0.01M403.82 75.8h0.01M407.26 75.8h0.01M408.98 75.8h0.01M412.42 75.8h0.01M414.14 75.8h0.01M415.86 75.8h0.01M417.58 75.8h0.01M293.69 85.14h0.01M312.61 81.77h0.01M316.05 81.39h0.01M317.77 81.23h0.01M334.97 80.35h0.01M348.73 80.16h0.01M374.53 80.1h0.01M388.29 80.1h0.01M400.33 80.1h0.01M405.49 80.1h0.01M410.65 80.1h0.01M303.94 87.25h0.01M305.66 86.99h0.01M307.38 86.74h0.01M309.1 86.51h0.01M310.82 86.3h0.01M328.02 85.03h0.01M341.78 84.71h0.01M343.5 84.69h0.01M346.94 84.66h0.01M350.38 84.64h0.01M352.1 84.64h0.01M353.82 84.63h0.01M357.26 84.62h0.01M358.98 84.62h0.01M360.7 84.61h0.01M362.42 84.61h0.01M365.86 84.61h0.01M367.58 84.61h0.01M374.46 84.6h0.01M379.62 84.6h0.01M383.06 84.6h0.01M384.78 84.6h0.01M388.22 84.6h0.01M393.38 84.6h0.01M395.1 84.6h0.01M415.74 84.6h0.01M284.13 93.74h0.01M285.85 93.5h0.01M287.57 93.22h0.01M289.29 92.93h0.01M291.01 92.63h0.01M292.73 92.32h0.01M297.89 91.4h0.01M308.21 89.86h0.01M309.93 89.65h0.01M315.09 89.14h0.01M316.81 89h0.01M320.25 88.76h0.01M321.97 88.66h0.01M323.69 88.57h0.01M328.85 88.36h0.01M339.17 88.13h0.01M342.61 88.09h0.01M347.77 88.05h0.01M349.49 88.04h0.01M356.37 88.02h0.01M359.81 88.01h0.01M363.25 88.01h0.01M370.13 88h0.01M371.85 88h0.01M385.61 88h0.01M387.33 88h0.01M389.05 88h0.01M390.77 88h0.01M394.21 88h0.01M397.65 88h0.01M399.37 88h0.01M402.81 88h0.01M404.53 88h0.01M406.25 88h0.01M411.41 88h0.01M413.13 88h0.01M416.57 88h0.01M296.24 95.73h0.01M335.8 92.67h0.01M340.96 92.6h0.01M406.32 92.5h0.01M321.09 98.22h0.01M322.81 98.15h0.01M329.69 97.95h0.01M341.73 97.78h0.01M345.17 97.75h0.01M350.33 97.73h0.01M353.77 97.72h0.01M364.09 97.71h0.01M376.13 97.7h0.01M389.89 97.7h0.01M366.56 104.5h0.01M380.32 104.5h0.01M407.84 104.5h0.01M307.86 110.75h0.01M350.86 110.02h0.01M331.31 116.07h0.01M365.71 116h0.01M369.15 116h0.01M400.11 116h0.01" stroke="#cbcbcb" stroke-width="2.0" fill="none" stroke-linecap="round"/>
<line x1="253.3" y1="89.1" x2="272.6" y2="89.1" stroke="#5b9fdc" stroke-width="2.9" />
<line x1="397" y1="75.3" x2="416.6" y2="75.3" stroke="#f79a3e" stroke-width="2.9" />
<path d="M228.5 52.3 L228.5 127.3 L424.1 127.3" stroke="#0d0d0d" stroke-width="1.0" fill="none" />
<line x1="237.38" y1="127.3" x2="237.38" y2="124" stroke="#0d0d0d" stroke-width="0.9" />
<text x="237.38" y="138.2" font-size="10" text-anchor="middle" fill="#1a1a1a" >&#8722;10</text>
<line x1="271.8" y1="127.3" x2="271.8" y2="124" stroke="#0d0d0d" stroke-width="0.9" />
<text x="271.8" y="138.2" font-size="10" text-anchor="middle" fill="#1a1a1a" >0</text>
<line x1="306.22" y1="127.3" x2="306.22" y2="124" stroke="#0d0d0d" stroke-width="0.9" />
<text x="306.22" y="138.2" font-size="10" text-anchor="middle" fill="#1a1a1a" >10</text>
<line x1="340.64" y1="127.3" x2="340.64" y2="124" stroke="#0d0d0d" stroke-width="0.9" />
<text x="340.64" y="138.2" font-size="10" text-anchor="middle" fill="#1a1a1a" >20</text>
<line x1="375.06" y1="127.3" x2="375.06" y2="124" stroke="#0d0d0d" stroke-width="0.9" />
<text x="375.06" y="138.2" font-size="10" text-anchor="middle" fill="#1a1a1a" >30</text>
<line x1="409.48" y1="127.3" x2="409.48" y2="124" stroke="#0d0d0d" stroke-width="0.9" />
<text x="409.48" y="138.2" font-size="10" text-anchor="middle" fill="#1a1a1a" >40</text>
<line x1="228.5" y1="76.4" x2="231.8" y2="76.4" stroke="#0d0d0d" stroke-width="0.9" />
<text x="225.3" y="80" font-size="10" text-anchor="end" fill="#1a1a1a" >2</text>
<line x1="228.5" y1="124.4" x2="231.8" y2="124.4" stroke="#0d0d0d" stroke-width="0.9" />
<text x="225.3" y="128" font-size="10" text-anchor="end" fill="#1a1a1a" >0</text>
<text x="327" y="150.2" font-size="10.3" text-anchor="middle" fill="#1a1a1a" >Time (min)</text>
<text transform="translate(214 93.3) rotate(-90)" font-size="9.6" text-anchor="middle" fill="#1a1a1a">EPSP amplitude (mV)</text>
<line x1="352" y1="91.3" x2="371.6" y2="91.3" stroke="#5b9fdc" stroke-width="2.9" />
<line x1="352" y1="103.6" x2="371.6" y2="103.6" stroke="#f79a3e" stroke-width="2.9" />
<rect x="352.3" y="111.8" width="18.9" height="7.3" fill="#d2d2d2"/>
<text x="377.4" y="94.3" font-size="8.4" text-anchor="start" fill="#1a1a1a" >baseline</text>
<text x="377.4" y="106.6" font-size="8.4" text-anchor="start" fill="#1a1a1a" >long term</text>
<text x="377.4" y="118.6" font-size="8.4" text-anchor="start" fill="#1a1a1a" >induction</text>
<text x="208.6" y="28.2" font-size="8.6" text-anchor="start" fill="#1a1a1a" >pre</text>
<text x="208.6" y="35.2" font-size="8.6" text-anchor="start" fill="#1a1a1a" >post</text>
<path d="M234 26.5 L234.4 26.2 L235.5 24.4 L236 15.4 L236.6 23.2 L237.6 24.6 L240.5 25.6 L246.5 26.4 L252 26.5 L259 26.2 L260.1 24.4 L260.6 15.4 L261.2 23.2 L262.2 24.6 L265.1 25.6 L271.1 26.4 L276.6 26.5 L283.6 26.2 L284.7 24.4 L285.2 15.4 L285.8 23.2 L286.8 24.6 L289.7 25.6 L295.7 26.4 L301.2 26.5 L308.5 26.2 L309.6 24.4 L310.1 15.4 L310.7 23.2 L311.7 24.6 L314.6 25.6 L320.6 26.4 L326.1 26.5 L333.2 26.2 L334.3 24.4 L334.8 15.4 L335.4 23.2 L336.4 24.6 L339.3 25.6 L345.3 26.4 L347 26.5" stroke="#0d0d0d" stroke-width="1.0" fill="none" stroke-dasharray="2.7 1.0" stroke-linejoin="round"/>
<path d="M239.3 32.6 L240.4 32.4 L240.9 20.8 L241.4 29.0 L242.1 29.8 C244.4 30.9 249.9 31.8 264.3 32.6 L264.9 32.4 L265.4 20.8 L265.9 29.0 L266.6 29.8 C268.9 30.9 274.4 31.8 288.8 32.6 L289.7 32.4 L290.2 20.8 L290.7 29.0 L291.4 29.8 C293.7 30.9 299.2 31.8 313.6 32.6 L314.5 32.4 L315 20.8 L315.5 29.0 L316.2 29.8 C318.5 30.9 324 31.8 338.4 32.6 L339.1 32.4 L339.6 20.8 L340.1 29.0 L340.8 29.8 C343.5 30.9 347 31.7 353.3 32.3" stroke="#0d0d0d" stroke-width="1.0" fill="none" stroke-linejoin="round"/>
<text x="241.5" y="40.9" font-size="8.7" text-anchor="start" fill="#1a1a1a" >Frequency = 20 Hz</text>
<text x="241.5" y="49.2" font-size="8.7" text-anchor="start" fill="#1a1a1a" letter-spacing="0.08">&#916;<tspan font-style="italic">t</tspan> = 10 ms</text>
<path d="M361.8 50.4 L362.4 48.4 L364.4 29.8 L365.2 26.4 L365.6 25.8 L367 27.66 L368.4 29.38 L369.79 30.96 L371.19 32.41 L372.59 33.75 L373.99 34.99 L375.38 36.13 L376.78 37.17 L378.18 38.14 L379.58 39.03 L380.97 39.85 L382.37 40.6 L383.77 41.29 L385.17 41.93 L386.56 42.52 L387.96 43.07 L389.36 43.57 L390.75 44.03 L392.15 44.45 L393.55 44.84 L394.95 45.2 L396.35 45.53 L397.74 45.84 L399.14 46.12 L400.54 46.38 L401.94 46.62 L403.33 46.84 L404.73 47.04 L406.13 47.22 L407.52 47.4 L408.92 47.55 L410.32 47.7 L411.72 47.83 L413.12 47.96 L414.51 48.07 L415.91 48.18 L417.31 48.27 L418.7 48.36 L420.1 48.44 L421.5 48.52" stroke="#5b9fdc" stroke-width="0.85" fill="none" stroke-linejoin="round"/>
<path d="M361.8 50.4 L362.4 48.4 L364.4 20 L365.2 16.6 L365.6 16 L367 18.64 L368.4 21.06 L369.79 23.3 L371.19 25.36 L372.59 27.26 L373.99 29 L375.38 30.61 L376.78 32.1 L378.18 33.46 L379.58 34.72 L380.97 35.88 L382.37 36.95 L383.77 37.93 L385.17 38.83 L386.56 39.67 L387.96 40.44 L389.36 41.14 L390.75 41.79 L392.15 42.39 L393.55 42.95 L394.95 43.46 L396.35 43.93 L397.74 44.36 L399.14 44.76 L400.54 45.12 L401.94 45.46 L403.33 45.77 L404.73 46.06 L406.13 46.32 L407.52 46.56 L408.92 46.79 L410.32 46.99 L411.72 47.18 L413.12 47.36 L414.51 47.52 L415.91 47.67 L417.31 47.8 L418.7 47.93 L420.1 48.05 L421.5 48.15" stroke="#f79a3e" stroke-width="0.85" fill="none" stroke-linejoin="round"/>
<path d="M406.9 18.5 L406.9 26.2 L418.4 26.2" stroke="#000" stroke-width="1.5" fill="none" />
<text x="403.8" y="25.9" font-size="8.6" text-anchor="end" fill="#1a1a1a" >0.5 mV</text>
<text x="424.4" y="36.2" font-size="8.6" text-anchor="end" fill="#1a1a1a" >20 ms</text>
<text x="205.9" y="12.5" font-size="17" text-anchor="start" fill="#1a1a1a" >b</text>
<rect x="526.2" y="51.8" width="26.7" height="75.5" fill="#d2d2d2"/>
<path d="M496 55.2h0.01M497.15 55.2h0.01M498.3 55.2h0.01M499.45 55.2h0.01M501.75 55.2h0.01M502.9 55.2h0.01M504.05 55.2h0.01M505.2 55.2h0.01M506.35 55.2h0.01M508.65 55.2h0.01M509.8 55.2h0.01M510.95 55.2h0.01M512.1 55.2h0.01M513.25 55.2h0.01M515.55 55.2h0.01M517.85 55.2h0.01M519 55.2h0.01M520.15 55.2h0.01M521.3 55.2h0.01M522.45 55.2h0.01M523.6 55.2h0.01M524.75 55.2h0.01M525.9 55.2h0.01M497 67.5h0.01M498.15 67.5h0.01M499.3 67.5h0.01M500.45 67.5h0.01M502.75 67.5h0.01M503.9 67.5h0.01M505.05 67.5h0.01M506.2 67.5h0.01M507.35 67.5h0.01M509.65 67.5h0.01M510.8 67.5h0.01M511.95 67.5h0.01M513.1 67.5h0.01M514.25 67.5h0.01M515.4 67.5h0.01M516.55 67.5h0.01M517.7 67.5h0.01M518.85 67.5h0.01M520 67.5h0.01M521.15 67.5h0.01M522.3 67.5h0.01M523.45 67.5h0.01M524.6 67.5h0.01M525.75 67.5h0.01M506.2 70.4h0.01M507.35 70.4h0.01M509.65 70.4h0.01M514.25 70.4h0.01M515.4 70.4h0.01M497 74.7h0.01M498.15 74.7h0.01M505.05 74.7h0.01M517.7 74.7h0.01M521.15 74.7h0.01M524.6 74.7h0.01M525.75 74.7h0.01M518.4 82.6h0.01M496 86.9h0.01M497.15 86.9h0.01M498.3 86.9h0.01M499.45 86.9h0.01M500.6 86.9h0.01M502.9 86.9h0.01M504.05 86.9h0.01M505.2 86.9h0.01M506.35 86.9h0.01M507.5 86.9h0.01M508.65 86.9h0.01M509.8 86.9h0.01M510.95 86.9h0.01M512.1 86.9h0.01M513.25 86.9h0.01M514.4 86.9h0.01M515.55 86.9h0.01M516.7 86.9h0.01M517.85 86.9h0.01M519 86.9h0.01M520.15 86.9h0.01M521.3 86.9h0.01M522.45 86.9h0.01M523.6 86.9h0.01M525.9 86.9h0.01M498.3 103.7h0.01M506.35 103.7h0.01M509.8 103.7h0.01M557.72 87.45h0.01M560.12 88.3h0.01M561.32 88.8h0.01M563.72 89.62h0.01M566.12 90.13h0.01M567.32 90.54h0.01M569.72 90.71h0.01M570.92 91.19h0.01M572.12 91.2h0.01M578.12 91.87h0.01M579.32 91.86h0.01M581.72 92.01h0.01M587.72 92.15h0.01M593.72 92.51h0.01M605.72 92.45h0.01M608.12 92.68h0.01M611.72 92.67h0.01M614.12 92.56h0.01M618.92 92.61h0.01M621.32 92.48h0.01M626.12 92.68h0.01M630.92 92.73h0.01M632.12 92.65h0.01M635.72 92.51h0.01M638.12 92.64h0.01M640.52 92.65h0.01M641.72 92.44h0.01M644.12 92.42h0.01M648.92 92.57h0.01M650.12 92.64h0.01M654.92 92.68h0.01M656.12 92.65h0.01M662.12 92.62h0.01M663.32 92.7h0.01M665.72 92.49h0.01M669.32 92.69h0.01M671.72 92.67h0.01M672.92 92.45h0.01M675.32 92.75h0.01M554.56 99.69h0.01M555.76 100.12h0.01M556.96 100.3h0.01M559.36 101.03h0.01M560.56 101.62h0.01M561.76 101.83h0.01M562.96 101.99h0.01M564.16 102.05h0.01M565.36 102.39h0.01M566.56 102.47h0.01M567.76 102.8h0.01M568.96 102.93h0.01M570.16 103.07h0.01M571.36 103.08h0.01M572.56 103.23h0.01M573.76 103.07h0.01M574.96 103.19h0.01M576.16 103.53h0.01M577.36 103.55h0.01M578.56 103.49h0.01M580.96 103.57h0.01M582.16 103.48h0.01M583.36 103.54h0.01M584.56 103.66h0.01M585.76 103.6h0.01M586.96 103.68h0.01M588.16 103.71h0.01M589.36 103.81h0.01M590.56 104h0.01M591.76 104.02h0.01M592.96 103.93h0.01M594.16 104.06h0.01M595.36 103.96h0.01M596.56 103.97h0.01M597.76 103.78h0.01M598.96 103.73h0.01M600.16 103.76h0.01M601.36 104.13h0.01M602.56 103.87h0.01M603.76 103.86h0.01M604.96 104.04h0.01M606.16 103.86h0.01M607.36 104.14h0.01M608.56 103.94h0.01M609.76 103.77h0.01M610.96 104.09h0.01M612.16 103.79h0.01M613.36 104.17h0.01M614.56 103.92h0.01M615.76 103.81h0.01M616.96 103.98h0.01M618.16 103.81h0.01M619.36 103.81h0.01M620.56 103.81h0.01M621.76 103.95h0.01M622.96 103.81h0.01M624.16 104.18h0.01M625.36 104h0.01M626.56 104.01h0.01M627.76 103.92h0.01M628.96 104.01h0.01M630.16 104.03h0.01M631.36 103.88h0.01M632.56 104.01h0.01M633.76 104.03h0.01M634.96 104.05h0.01M636.16 104.16h0.01M637.36 103.98h0.01M638.56 103.89h0.01M639.76 103.92h0.01M640.96 104.11h0.01M642.16 103.92h0.01M643.36 103.83h0.01M644.56 103.83h0.01M645.76 104.03h0.01M646.96 103.82h0.01M648.16 103.82h0.01M649.36 103.91h0.01M650.56 103.84h0.01M651.76 103.92h0.01M652.96 104.02h0.01M654.16 104.06h0.01M655.36 104.03h0.01M656.56 104.13h0.01M657.76 104.18h0.01M658.96 104.08h0.01M660.16 104.12h0.01M661.36 103.85h0.01M662.56 103.87h0.01M663.76 104.07h0.01M664.96 103.83h0.01M666.16 104.02h0.01M667.36 103.82h0.01M668.56 103.94h0.01M669.76 104.18h0.01M670.96 103.89h0.01M672.16 103.94h0.01M673.36 103.8h0.01M674.56 104.13h0.01M675.76 103.84h0.01M578.06 100.78h0.01M582.86 100.73h0.01M594.86 101.06h0.01M597.26 101.14h0.01M598.46 100.98h0.01M603.26 100.88h0.01M604.46 101h0.01M608.06 100.92h0.01M609.26 101.17h0.01M615.26 101.12h0.01M617.66 100.86h0.01M618.86 101.08h0.01M621.26 101.11h0.01M629.66 101h0.01M632.06 100.95h0.01M633.26 100.81h0.01M634.46 100.95h0.01M652.46 100.83h0.01M653.66 100.94h0.01M658.46 101.17h0.01M659.66 101.09h0.01M660.86 101.1h0.01M670.46 101.01h0.01M672.86 101.19h0.01M553.61 110.83h0.01M559.61 111.95h0.01M562.01 112.51h0.01M563.21 112.71h0.01M564.41 112.59h0.01M565.61 112.83h0.01M568.01 113.01h0.01M570.41 112.93h0.01M571.61 113.3h0.01M575.21 113.28h0.01M576.41 113.52h0.01M577.61 113.3h0.01M581.21 113.29h0.01M582.41 113.52h0.01M583.61 113.39h0.01M584.81 113.58h0.01M586.01 113.63h0.01M587.21 113.4h0.01M588.41 113.72h0.01M590.81 113.75h0.01M592.01 113.79h0.01M593.21 113.7h0.01M594.41 113.62h0.01M595.61 113.52h0.01M596.81 113.48h0.01M598.01 113.7h0.01M599.21 113.76h0.01M600.41 113.79h0.01M601.61 113.75h0.01M605.21 113.86h0.01M606.41 113.52h0.01M607.61 113.56h0.01M608.81 113.67h0.01M610.01 113.78h0.01M611.21 113.65h0.01M612.41 113.64h0.01M613.61 113.73h0.01M614.81 113.76h0.01M616.01 113.88h0.01M618.41 113.8h0.01M619.61 113.61h0.01M620.81 113.69h0.01M622.01 113.79h0.01M624.41 113.61h0.01M625.61 113.77h0.01M626.81 113.73h0.01M628.01 113.63h0.01M629.21 113.7h0.01M630.41 113.67h0.01M631.61 113.76h0.01M632.81 113.61h0.01M634.01 113.69h0.01M636.41 113.65h0.01M638.81 113.64h0.01M640.01 113.5h0.01M641.21 113.64h0.01M642.41 113.6h0.01M643.61 113.65h0.01M644.81 113.52h0.01M646.01 113.89h0.01M647.21 113.69h0.01M648.41 113.61h0.01M650.81 113.7h0.01M652.01 113.66h0.01M653.21 113.67h0.01M654.41 113.86h0.01M655.61 113.75h0.01M656.81 113.51h0.01M658.01 113.67h0.01M660.41 113.87h0.01M661.61 113.9h0.01M662.81 113.86h0.01M664.01 113.81h0.01M665.21 113.89h0.01M667.61 113.67h0.01M668.81 113.69h0.01M670.01 113.77h0.01M671.21 113.57h0.01M672.41 113.53h0.01M673.61 113.86h0.01M553.99 124.03h0.01M557.59 123.79h0.01M561.19 123.77h0.01M563.59 124h0.01M567.19 123.91h0.01M570.79 123.74h0.01M579.19 123.93h0.01M580.39 123.92h0.01M582.79 123.89h0.01M585.19 124.01h0.01M591.19 123.9h0.01M592.39 123.85h0.01M593.59 123.71h0.01M594.79 123.88h0.01M605.59 123.77h0.01M607.99 123.88h0.01M613.99 123.92h0.01M616.39 123.84h0.01M619.99 123.88h0.01M621.19 123.74h0.01M622.39 123.76h0.01M624.79 123.81h0.01M628.39 124.03h0.01M633.19 123.81h0.01M637.99 123.75h0.01M639.19 124h0.01M641.59 123.72h0.01M646.39 123.94h0.01M647.59 123.99h0.01M651.19 124.08h0.01M652.39 123.73h0.01M654.79 123.73h0.01M660.79 123.96h0.01M663.19 124h0.01M664.39 123.82h0.01M665.59 124h0.01M670.39 123.79h0.01M671.59 124.08h0.01M672.79 123.74h0.01M675.19 123.87h0.01M585.5 96.5h0.01M592.5 108h0.01M610.5 97.8h0.01M621.8 107h0.01M622.2 111h0.01M571.5 91h0.01M573.5 94h0.01" stroke="#cbcbcb" stroke-width="2.0" fill="none" stroke-linecap="round"/>
<line x1="510.2" y1="70.3" x2="528" y2="70.3" stroke="#5b9fdc" stroke-width="2.9" />
<line x1="657.8" y1="106.3" x2="675.6" y2="106.3" stroke="#f79a3e" stroke-width="2.9" />
<path d="M487.6 51.8 L487.6 127.3 L683 127.3" stroke="#0d0d0d" stroke-width="1.0" fill="none" />
<line x1="526.3" y1="127.3" x2="526.3" y2="124" stroke="#0d0d0d" stroke-width="0.9" />
<text x="526.3" y="138.2" font-size="10" text-anchor="middle" fill="#1a1a1a" >0</text>
<line x1="587.5" y1="127.3" x2="587.5" y2="124" stroke="#0d0d0d" stroke-width="0.9" />
<text x="587.5" y="138.2" font-size="10" text-anchor="middle" fill="#1a1a1a" >20</text>
<line x1="648.7" y1="127.3" x2="648.7" y2="124" stroke="#0d0d0d" stroke-width="0.9" />
<text x="648.7" y="138.2" font-size="10" text-anchor="middle" fill="#1a1a1a" >40</text>
<line x1="487.6" y1="77.1" x2="490.9" y2="77.1" stroke="#0d0d0d" stroke-width="0.9" />
<text x="484.4" y="80.7" font-size="10" text-anchor="end" fill="#1a1a1a" >2</text>
<line x1="487.6" y1="123.9" x2="490.9" y2="123.9" stroke="#0d0d0d" stroke-width="0.9" />
<text x="484.4" y="127.5" font-size="10" text-anchor="end" fill="#1a1a1a" >0</text>
<text x="585.6" y="150.2" font-size="10.3" text-anchor="middle" fill="#1a1a1a" >Time (min)</text>
<text transform="translate(474.4 93.3) rotate(-90)" font-size="9.6" text-anchor="middle" fill="#1a1a1a">EPSP amplitude (mV)</text>
<line x1="610.8" y1="62.5" x2="630.6" y2="62.5" stroke="#5b9fdc" stroke-width="2.9" />
<line x1="610.8" y1="74.9" x2="630.6" y2="74.9" stroke="#f79a3e" stroke-width="2.9" />
<rect x="611.2" y="83.0" width="19" height="7.3" fill="#d2d2d2"/>
<text x="636.8" y="65.6" font-size="8.4" text-anchor="start" fill="#1a1a1a" >Baseline</text>
<text x="636.8" y="77.9" font-size="8.4" text-anchor="start" fill="#1a1a1a" >Long term</text>
<text x="636.8" y="90.1" font-size="8.4" text-anchor="start" fill="#1a1a1a" >Induction</text>
<text x="468" y="28.2" font-size="8.6" text-anchor="start" fill="#1a1a1a" >pre</text>
<text x="468" y="35.2" font-size="8.6" text-anchor="start" fill="#1a1a1a" >post</text>
<path d="M493.1 32.1 L497.3 30.3 L501.4 29.0 L502.3 27.6 L503.4 20.7 L504.4 25.2 L505.3 27.2 L507.2 29.3 C509.5 30.3 516 30.9 525.4 31.2 C540 31.5 552 31.6 572.8 31.6" stroke="#0d0d0d" stroke-width="1.0" fill="none" stroke-linejoin="round"/>
<path d="M533.3 26.5 L537.5 24.5 L541.0 23.5 L542.0 22.0 L543.1 15.1 L544.1 19.6 L545.0 21.5 L546.9 23.7 C549.7 24.6 556 25.2 565 25.5 L611 25.6" stroke="#0d0d0d" stroke-width="1.0" fill="none" stroke-dasharray="2.5 1.0" stroke-linejoin="round"/>
<text x="500.6" y="40.9" font-size="8.78" text-anchor="start" fill="#1a1a1a" >Frequency = 0.2 Hz</text>
<text x="500.6" y="49.2" font-size="8.78" text-anchor="start" fill="#1a1a1a" letter-spacing="0.08">&#916;<tspan font-style="italic">t</tspan> = -15 ms</text>
<path d="M621.2 50.5 L621.62 48.11 L622.05 46.13 L622.47 44.51 L622.89 43.19 L623.31 42.12 L623.74 41.27 L624.16 40.59 L624.58 40.07 L625.01 39.67 L625.43 39.38 L625.85 39.19 L626.27 39.07 L626.7 39.01 L627.12 39 L627.54 39.04 L627.97 39.11 L628.39 39.21 L628.81 39.34 L629.23 39.49 L629.66 39.65 L630.08 39.82 L630.5 40 L630.93 40.2 L631.35 40.39 L631.77 40.59 L632.19 40.79 L632.62 41 L633.04 41.2 L633.46 41.41 L633.89 41.61 L634.31 41.81 L634.73 42.01 L635.15 42.2 L635.58 42.39 L636 42.58 L636.42 42.77 L636.85 42.95 L637.27 43.13 L637.69 43.31 L638.11 43.48 L638.54 43.65 L638.96 43.82 L639.38 43.98 L639.81 44.13 L640.23 44.29 L640.65 44.44 L641.07 44.59 L641.5 44.73 L641.92 44.87 L642.34 45.01 L642.77 45.14 L643.19 45.28 L643.61 45.4 L644.03 45.53 L644.46 45.65 L644.88 45.77 L645.3 45.88 L645.73 46 L646.15 46.11 L646.57 46.22 L646.99 46.32 L647.42 46.42 L647.84 46.52 L648.26 46.62 L648.69 46.72 L649.11 46.81 L649.53 46.9 L649.95 46.99 L650.38 47.07 L650.8 47.16 L651.22 47.24 L651.65 47.32 L652.07 47.4 L652.49 47.47 L652.91 47.55 L653.34 47.62 L653.76 47.69 L654.18 47.76 L654.61 47.83 L655.03 47.89 L655.45 47.96 L655.87 48.02 L656.3 48.08 L656.72 48.14 L657.14 48.2 L657.57 48.26 L657.99 48.31 L658.41 48.36 L658.83 48.42 L659.26 48.47 L659.68 48.52 L660.1 48.57 L660.53 48.61 L660.95 48.66 L661.37 48.71 L661.79 48.75 L662.22 48.79 L662.64 48.83 L663.06 48.88 L663.49 48.92 L663.91 48.95 L664.33 48.99 L664.75 49.03 L665.18 49.07 L665.6 49.1 L666.02 49.14 L666.45 49.17 L666.87 49.2 L667.29 49.23 L667.71 49.26 L668.14 49.29 L668.56 49.32 L668.98 49.35 L669.41 49.38 L669.83 49.41 L670.25 49.44 L670.67 49.46 L671.1 49.49 L671.52 49.51 L671.94 49.54 L672.37 49.56 L672.79 49.58 L673.21 49.61 L673.63 49.63 L674.06 49.65 L674.48 49.67 L674.9 49.69 L675.33 49.71 L675.75 49.73 L676.17 49.75 L676.59 49.77 L677.02 49.79 L677.44 49.8 L677.86 49.82 L678.29 49.84 L678.71 49.85 L679.13 49.87 L679.55 49.88 L679.98 49.9 L680.4 49.91" stroke="#f79a3e" stroke-width="0.85" fill="none" stroke-linejoin="round"/>
<path d="M621.2 50.5 L621.62 42.86 L622.05 36.64 L622.47 31.61 L622.89 27.56 L623.31 24.33 L623.74 21.79 L624.16 19.82 L624.58 18.33 L625.01 17.23 L625.43 16.46 L625.85 15.97 L626.27 15.69 L626.7 15.6 L627.12 15.66 L627.54 15.84 L627.97 16.13 L628.39 16.49 L628.81 16.92 L629.23 17.4 L629.66 17.93 L630.08 18.48 L630.5 19.05 L630.93 19.65 L631.35 20.25 L631.77 20.86 L632.19 21.48 L632.62 22.09 L633.04 22.7 L633.46 23.31 L633.89 23.91 L634.31 24.51 L634.73 25.1 L635.15 25.68 L635.58 26.25 L636 26.81 L636.42 27.36 L636.85 27.9 L637.27 28.42 L637.69 28.94 L638.11 29.45 L638.54 29.94 L638.96 30.43 L639.38 30.9 L639.81 31.37 L640.23 31.82 L640.65 32.26 L641.07 32.7 L641.5 33.12 L641.92 33.53 L642.34 33.94 L642.77 34.33 L643.19 34.72 L643.61 35.09 L644.03 35.46 L644.46 35.82 L644.88 36.17 L645.3 36.51 L645.73 36.84 L646.15 37.17 L646.57 37.49 L646.99 37.8 L647.42 38.1 L647.84 38.4 L648.26 38.69 L648.69 38.97 L649.11 39.24 L649.53 39.51 L649.95 39.77 L650.38 40.03 L650.8 40.28 L651.22 40.52 L651.65 40.76 L652.07 40.99 L652.49 41.22 L652.91 41.44 L653.34 41.66 L653.76 41.87 L654.18 42.08 L654.61 42.28 L655.03 42.47 L655.45 42.67 L655.87 42.85 L656.3 43.04 L656.72 43.21 L657.14 43.39 L657.57 43.56 L657.99 43.72 L658.41 43.88 L658.83 44.04 L659.26 44.2 L659.68 44.35 L660.1 44.49 L660.53 44.64 L660.95 44.78 L661.37 44.91 L661.79 45.05 L662.22 45.18 L662.64 45.3 L663.06 45.43 L663.49 45.55 L663.91 45.67 L664.33 45.78 L664.75 45.9 L665.18 46.01 L665.6 46.11 L666.02 46.22 L666.45 46.32 L666.87 46.42 L667.29 46.52 L667.71 46.61 L668.14 46.71 L668.56 46.8 L668.98 46.88 L669.41 46.97 L669.83 47.05 L670.25 47.14 L670.67 47.22 L671.1 47.3 L671.52 47.37 L671.94 47.45 L672.37 47.52 L672.79 47.59 L673.21 47.66 L673.63 47.73 L674.06 47.79 L674.48 47.86 L674.9 47.92 L675.33 47.98 L675.75 48.04 L676.17 48.1 L676.59 48.16 L677.02 48.22 L677.44 48.27 L677.86 48.32 L678.29 48.38 L678.71 48.43 L679.13 48.48 L679.55 48.52 L679.98 48.57 L680.4 48.62" stroke="#5b9fdc" stroke-width="0.85" fill="none" stroke-linejoin="round"/>
<path d="M665.7 18.4 L665.7 25.9 L677.0 25.9" stroke="#000" stroke-width="1.5" fill="none" />
<text x="663.6" y="25.9" font-size="8.6" text-anchor="end" fill="#1a1a1a" >0.5 mV</text>
<text x="683.2" y="35.4" font-size="8.6" text-anchor="end" fill="#1a1a1a" >20 ms</text>
<text x="455" y="14.6" font-size="17" text-anchor="start" fill="#1a1a1a" >e</text>
<line x1="236.7" y1="251.5" x2="291.8" y2="251.5" stroke="#1a1a1a" stroke-width="0.8" stroke-dasharray="2.3 1.0"/>
<path d="M236.7 176.8 L236.7 281.2 L291.8 281.2" stroke="#0d0d0d" stroke-width="1.0" fill="none" />
<line x1="236.7" y1="176.9" x2="240" y2="176.9" stroke="#0d0d0d" stroke-width="0.9" />
<text x="233.5" y="180.5" font-size="10" text-anchor="end" fill="#1a1a1a" >2.0</text>
<line x1="236.7" y1="214.2" x2="240" y2="214.2" stroke="#0d0d0d" stroke-width="0.9" />
<text x="233.5" y="217.8" font-size="10" text-anchor="end" fill="#1a1a1a" >1.5</text>
<line x1="236.7" y1="251.5" x2="240" y2="251.5" stroke="#0d0d0d" stroke-width="0.9" />
<text x="233.5" y="255.1" font-size="10" text-anchor="end" fill="#1a1a1a" >1.0</text>
<line x1="264.3" y1="281.2" x2="264.3" y2="277.9" stroke="#0d0d0d" stroke-width="0.9" />
<text x="264.3" y="291.8" font-size="10" text-anchor="middle" fill="#1a1a1a" >20</text>
<text x="264.7" y="303.6" font-size="10.15" text-anchor="middle" fill="#1a1a1a" >Frequency (Hz)</text>
<text transform="translate(215.3 228.2) rotate(-90)" font-size="10" text-anchor="middle" fill="#1a1a1a">EPSP ratio</text>
<text x="264.2" y="166.9" font-size="10.3" text-anchor="middle" fill="#1a1a1a" letter-spacing="0.12">&#916;<tspan font-style="italic">t</tspan> = 10 ms</text>
<text x="206.1" y="169.4" font-size="17" text-anchor="start" fill="#1a1a1a" >c</text>
<line x1="264.3" y1="183.99" x2="264.3" y2="203.01" stroke="#5b9fdc" stroke-width="0.9" />
<circle cx="264.3" cy="193.31" r="2.6" fill="#5b9fdc"/>
<line x1="264.3" y1="223.75" x2="264.3" y2="234.72" stroke="#f79a3e" stroke-width="0.9" />
<circle cx="264.3" cy="229.12" r="2.6" fill="#f79a3e"/>
<line x1="238.4" y1="259" x2="255.8" y2="259" stroke="#5b9fdc" stroke-width="0.9" opacity="0.75"/>
<line x1="247" y1="254.8" x2="247" y2="263.2" stroke="#5b9fdc" stroke-width="0.9" opacity="0.75"/>
<circle cx="247" cy="259" r="2.6" fill="#5b9fdc"/>
<text x="262.6" y="261.9" font-size="8.4" text-anchor="start" fill="#1a1a1a" >in silico</text>
<line x1="238.4" y1="270.6" x2="255.8" y2="270.6" stroke="#f79a3e" stroke-width="0.9" opacity="0.75"/>
<line x1="247" y1="266.4" x2="247" y2="274.8" stroke="#f79a3e" stroke-width="0.9" opacity="0.75"/>
<circle cx="247" cy="270.6" r="2.6" fill="#f79a3e"/>
<text x="262.6" y="273.5" font-size="8.4" text-anchor="start" fill="#1a1a1a" >in vitro</text>
<line x1="484.6" y1="251.5" x2="539.4" y2="251.5" stroke="#1a1a1a" stroke-width="0.8" stroke-dasharray="2.3 1.0"/>
<path d="M484.6 176.8 L484.6 281.2 L539.4 281.2" stroke="#0d0d0d" stroke-width="1.0" fill="none" />
<line x1="484.6" y1="176.9" x2="487.9" y2="176.9" stroke="#0d0d0d" stroke-width="0.9" />
<text x="481.4" y="180.5" font-size="10" text-anchor="end" fill="#1a1a1a" >2.0</text>
<line x1="484.6" y1="214.2" x2="487.9" y2="214.2" stroke="#0d0d0d" stroke-width="0.9" />
<text x="481.4" y="217.8" font-size="10" text-anchor="end" fill="#1a1a1a" >1.5</text>
<line x1="484.6" y1="251.5" x2="487.9" y2="251.5" stroke="#0d0d0d" stroke-width="0.9" />
<text x="481.4" y="255.1" font-size="10" text-anchor="end" fill="#1a1a1a" >1.0</text>
<line x1="511.4" y1="281.2" x2="511.4" y2="277.9" stroke="#0d0d0d" stroke-width="0.9" />
<text x="511.4" y="291.8" font-size="10" text-anchor="middle" fill="#1a1a1a" >0.2</text>
<text x="511.8" y="303.6" font-size="10.15" text-anchor="middle" fill="#1a1a1a" >Frequency (Hz)</text>
<text transform="translate(462.3 228.2) rotate(-90)" font-size="10" text-anchor="middle" fill="#1a1a1a">EPSP ratio</text>
<text x="510.8" y="166.9" font-size="10.3" text-anchor="middle" fill="#1a1a1a" letter-spacing="0.12">&#916;<tspan font-style="italic">t</tspan> = -15 ms</text>
<text x="455.4" y="172" font-size="17" text-anchor="start" fill="#1a1a1a" >f</text>
<line x1="511.4" y1="247.4" x2="511.4" y2="259.71" stroke="#5b9fdc" stroke-width="0.9" />
<circle cx="511.4" cy="253.37" r="2.6" fill="#5b9fdc"/>
<line x1="511.4" y1="263.44" x2="511.4" y2="273.88" stroke="#f79a3e" stroke-width="0.9" />
<circle cx="511.4" cy="268.28" r="2.6" fill="#f79a3e"/>
<line x1="485.4" y1="188.3" x2="502.8" y2="188.3" stroke="#5b9fdc" stroke-width="0.9" opacity="0.75"/>
<line x1="494" y1="184.1" x2="494" y2="192.5" stroke="#5b9fdc" stroke-width="0.9" opacity="0.75"/>
<circle cx="494" cy="188.3" r="2.6" fill="#5b9fdc"/>
<text x="509.6" y="191.2" font-size="8.4" text-anchor="start" fill="#1a1a1a" >in silico</text>
<line x1="485.4" y1="199.9" x2="502.8" y2="199.9" stroke="#f79a3e" stroke-width="0.9" opacity="0.75"/>
<line x1="494" y1="195.7" x2="494" y2="204.1" stroke="#f79a3e" stroke-width="0.9" opacity="0.75"/>
<circle cx="494" cy="199.9" r="2.6" fill="#f79a3e"/>
<text x="509.6" y="202.8" font-size="8.4" text-anchor="start" fill="#1a1a1a" >in vitro</text>
<path d="M352.66 272.48h0.01M354.15 273.12h0.01M383.89 275.47h0.01M345.75 265.23h0.01M366.82 272.21h0.01M354.63 272.8h0.01M387.13 272.09h0.01M363.08 271.71h0.01M352.35 259.95h0.01M361.45 264.68h0.01M357.86 271h0.01M377.98 273.15h0.01M366.61 270.03h0.01M387.13 272.33h0.01M359.97 274.24h0.01M374.83 272.77h0.01M363.02 275.65h0.01M354.32 272.21h0.01M365.5 271.85h0.01M358.02 269.28h0.01M357.98 271.92h0.01M349.38 266.04h0.01M380.21 275.11h0.01M387.13 276.42h0.01M359.88 266.12h0.01M358.87 272.56h0.01M349.53 267.58h0.01M355.36 274.01h0.01M360.3 268.68h0.01M387.13 273.43h0.01M377.15 273.79h0.01M364.19 258.8h0.01M347.71 260.99h0.01M360.52 275.35h0.01M364.55 272.45h0.01M372.46 273.69h0.01M347.44 271.95h0.01M366.77 275.83h0.01M359.84 270.18h0.01M350.44 270.18h0.01M347.54 258.02h0.01M370.55 267.37h0.01M364.73 274.25h0.01M352.69 269.79h0.01M358.94 272.49h0.01M374.28 273.72h0.01M379.92 270.64h0.01M349.3 268.02h0.01M352.96 270.11h0.01M356.98 263.4h0.01M359.29 269.07h0.01M363.3 273.62h0.01M367.59 273.52h0.01M356.88 276.49h0.01M364.2 265.1h0.01M357.12 268.27h0.01M350.87 258.44h0.01M378.47 271.54h0.01M369.93 275.19h0.01M359.7 272.08h0.01M348.7 267.75h0.01M385.19 269.42h0.01M361.55 274.27h0.01M369.2 270.65h0.01M350.12 273.93h0.01M387.13 274.13h0.01M368.93 275.1h0.01M373.41 276.38h0.01M354.99 273.74h0.01M386.29 271.92h0.01M356.95 272.53h0.01M365.36 271.52h0.01M356.66 271.27h0.01M350.89 272.99h0.01M373.77 274.98h0.01M372.21 269.2h0.01M355.25 266.85h0.01M353.68 263.77h0.01M355.92 266.1h0.01M360.88 273.11h0.01M356.01 272.81h0.01M353.35 267.78h0.01M348.02 258.02h0.01M347.16 269.66h0.01M348.26 268.69h0.01M346.27 269.32h0.01M350.43 274.9h0.01M358.7 269.25h0.01M381.87 274.66h0.01M353.32 270.35h0.01M365.3 270.56h0.01M387.13 276.87h0.01M347.07 258.02h0.01M377.25 270.64h0.01M353.34 267.7h0.01M368.58 275.53h0.01M382.89 274.32h0.01M356.52 267h0.01M349.46 269.64h0.01M355.7 272.71h0.01M348.16 270.26h0.01M352.45 273.88h0.01M359.93 272.3h0.01M349.86 272.93h0.01M354.08 272.79h0.01M369.01 269.73h0.01M374.19 270.32h0.01M383.74 268.82h0.01M372.07 272.29h0.01M364.51 276.44h0.01M358.14 274.76h0.01M370.05 275.3h0.01M380.06 272.05h0.01M350.02 271.25h0.01M353.05 268.39h0.01M360.41 274.14h0.01M347.6 266.43h0.01M351.36 267.16h0.01M360.45 271.15h0.01M370.28 276.17h0.01M341.7 231.6h0.01M342.6 241.6h0.01M344.1 249.5h0.01M347.3 252.7h0.01M347.9 257.4h0.01M351.1 260.6h0.01M358 259.6h0.01M373.2 262.8h0.01M394.7 265.3h0.01M403.2 268.5h0.01M417.5 268.8h0.01M428.5 269.1h0.01M388 270.5h0.01M391.5 274h0.01M398 272h0.01M401 275h0.01M407 273.5h0.01M412 274.8h0.01M346 262h0.01M349.5 265h0.01M352 262h0.01M355 266h0.01" stroke="#5b9fdc" stroke-width="2.9" fill="none" stroke-linecap="round" opacity="0.95"/>
<path d="M341.4 222.1 L341.11 222.88 L341.11 223.45 L341.12 224.09 L341.14 224.81 L341.15 225.6 L341.16 226.45 L341.18 227.36 L341.2 228.31 L341.22 229.31 L341.24 230.34 L341.27 231.4 L341.29 232.47 L341.32 233.55 L341.35 234.64 L341.39 235.72 L341.42 236.8 L341.46 237.87 L341.5 238.92 L341.55 239.96 L341.59 240.97 L341.64 241.97 L341.69 242.93 L341.75 243.87 L341.8 244.79 L341.86 245.68 L341.93 246.54 L341.99 247.37 L342.06 248.18 L342.14 248.96 L342.21 249.72 L342.29 250.45 L342.37 251.15 L342.46 251.83 L342.55 252.49 L342.64 253.12 L342.74 253.73 L342.84 254.32 L342.94 254.89 L343.05 255.44 L343.16 255.97 L343.27 256.48 L343.39 256.97 L343.52 257.45 L343.64 257.91 L343.77 258.36 L343.91 258.79 L344.04 259.21 L344.19 259.61 L344.33 260 L344.48 260.37 L344.64 260.74 L344.8 261.09 L344.96 261.43 L345.13 261.76 L345.3 262.08 L345.48 262.39 L345.66 262.7 L345.84 262.99 L346.03 263.27 L346.23 263.55 L346.42 263.81 L346.63 264.07 L346.84 264.33 L347.05 264.57 L347.27 264.81 L347.49 265.04 L347.72 265.26 L347.95 265.48 L348.19 265.69 L348.43 265.9 L348.68 266.1 L348.93 266.3 L349.19 266.49 L349.45 266.68 L349.72 266.86 L349.99 267.04 L350.27 267.21 L350.56 267.38 L350.85 267.54 L351.14 267.7 L351.44 267.86 L351.75 268.01 L352.06 268.16 L352.37 268.3 L352.69 268.44 L353.02 268.58 L353.36 268.72 L353.69 268.85 L354.04 268.98 L354.39 269.11 L354.75 269.23 L355.11 269.35 L355.47 269.47 L355.85 269.59 L356.23 269.7 L356.61 269.81 L357 269.92 L357.4 270.03 L357.81 270.13 L358.21 270.23 L358.63 270.33 L359.05 270.43 L359.48 270.53 L359.91 270.62 L360.35 270.71 L360.8 270.81 L361.25 270.89 L361.71 270.98 L362.18 271.07 L362.65 271.15 L363.13 271.23 L363.61 271.31 L364.11 271.39 L364.6 271.47 L365.11 271.55 L365.62 271.62 L366.14 271.7 L366.66 271.77 L367.19 271.84 L367.73 271.91 L368.28 271.98 L368.83 272.05 L369.39 272.11 L369.95 272.18 L370.52 272.24 L371.1 272.31 L371.69 272.37 L372.28 272.43 L372.88 272.49 L373.49 272.55 L374.1 272.61 L374.72 272.66 L375.35 272.72 L375.99 272.78 L376.63 272.83 L377.28 272.88 L377.94 272.94 L378.6 272.99 L379.28 273.04 L379.95 273.09 L380.64 273.14 L381.34 273.19 L382.04 273.24 L382.75 273.29 L383.46 273.33 L384.19 273.38 L384.92 273.42 L385.66 273.47 L386.4 273.51 L387.16 273.56 L387.92 273.6 L388.69 273.64 L389.47 273.68 L390.25 273.72 L391.05 273.77 L391.85 273.81 L392.66 273.84 L393.47 273.88 L394.3 273.92 L395.13 273.96 L395.97 274 L396.82 274.03 L397.67 274.07 L398.54 274.11 L399.41 274.14 L400.29 274.18 L401.18 274.21 L402.08 274.25 L402.98 274.28 L403.9 274.31 L404.82 274.35 L405.75 274.38 L406.69 274.41 L407.63 274.44 L408.59 274.47 L409.55 274.5 L410.52 274.53 L411.5 274.56 L412.49 274.59 L413.49 274.62 L414.5 274.65 L415.51 274.68 L416.53 274.71 L417.56 274.74 L418.6 274.76 L419.65 274.79 L420.71 274.82 L421.78 274.85 L422.85 274.87 L423.94 274.9 L425.03 274.92" stroke="#000" stroke-width="1.5" fill="none" stroke-dasharray="5.55 2.4" stroke-linejoin="round"/>
<line x1="341.4" y1="190.2" x2="341.4" y2="209" stroke="#000" stroke-width="1.5" stroke-dasharray="5.55 2.4"/>
<path d="M338.1 195.3L343.9 201.1M338.1 201.1L343.9 195.3" stroke="#ee3a3f" stroke-width="1.4" fill="none" />
<path d="M339.9 188.6 L336.6 188.6 L336.6 209.4 L339.9 209.4" stroke="#0d0d0d" stroke-width="1.0" fill="none" />
<path d="M339.9 220.6 L336.6 220.6 L336.6 282 L432.6 282" stroke="#0d0d0d" stroke-width="1.0" fill="none" />
<text x="332.4" y="192.6" font-size="10" text-anchor="end" fill="#1a1a1a" >60</text>
<text x="332.4" y="213.4" font-size="10" text-anchor="end" fill="#1a1a1a" >55</text>
<text x="332.4" y="224.7" font-size="10" text-anchor="end" fill="#1a1a1a" >10</text>
<line x1="336.6" y1="249.9" x2="339.9" y2="249.9" stroke="#0d0d0d" stroke-width="0.9" />
<text x="332.4" y="253.7" font-size="10" text-anchor="end" fill="#1a1a1a" >5</text>
<line x1="336.6" y1="278.9" x2="339.9" y2="278.9" stroke="#0d0d0d" stroke-width="0.9" />
<text x="332.4" y="282.7" font-size="10" text-anchor="end" fill="#1a1a1a" >0</text>
<line x1="340.7" y1="282" x2="340.7" y2="278.7" stroke="#0d0d0d" stroke-width="0.9" />
<text x="340.7" y="292" font-size="10" text-anchor="middle" fill="#1a1a1a" >0</text>
<line x1="378.6" y1="282" x2="378.6" y2="278.7" stroke="#0d0d0d" stroke-width="0.9" />
<text x="378.6" y="292" font-size="10" text-anchor="middle" fill="#1a1a1a" >2</text>
<line x1="416.5" y1="282" x2="416.5" y2="278.7" stroke="#0d0d0d" stroke-width="0.9" />
<text x="416.5" y="292" font-size="10" text-anchor="middle" fill="#1a1a1a" >4</text>
<text x="386" y="305" font-size="10.3" text-anchor="middle" fill="#1a1a1a" >Initial EPSP (mV)</text>
<text transform="translate(317.7 228.2) rotate(-90)" font-size="10" text-anchor="middle" fill="#1a1a1a">EPSP ratio</text>
<text x="384.6" y="166.8" font-size="10.3" text-anchor="middle" fill="#1a1a1a" >Frequency = 20 Hz</text>
<text x="384.6" y="177" font-size="10.3" text-anchor="middle" fill="#1a1a1a" letter-spacing="0.12">&#916;<tspan font-style="italic">t</tspan> = 10 ms</text>
<text x="309.8" y="172.3" font-size="17" text-anchor="start" fill="#1a1a1a" >d</text>
<line x1="382.2" y1="194.2" x2="399.8" y2="194.2" stroke="#000" stroke-width="1.5" stroke-dasharray="5.55 2.4"/>
<circle cx="390.8" cy="206.6" r="1.35" fill="#5b9fdc"/>
<path d="M388.2 216.2L393.4 221.4M388.2 221.4L393.4 216.2" stroke="#ee3a3f" stroke-width="1.2" fill="none" />
<text x="406.6" y="196.9" font-size="8.3" text-anchor="start" fill="#1a1a1a" >PL fit</text>
<text x="406.6" y="209" font-size="8.3" text-anchor="start" fill="#1a1a1a" >data</text>
<text x="406.6" y="220.6" font-size="8.3" text-anchor="start" fill="#1a1a1a" >outlier</text>
<path d="M599.01 269.79h0.01M640.16 269.02h0.01M634.07 272.29h0.01M612.79 273.99h0.01M647.22 270.67h0.01M612.89 262.03h0.01M604.79 271.1h0.01M600.42 271.62h0.01M599.51 272.81h0.01M618.41 270.46h0.01M616.26 271.28h0.01M628.35 265.98h0.01M643.24 262.03h0.01M615.23 263.69h0.01M618 266.58h0.01M617.87 271.19h0.01M628.66 271.39h0.01M627.67 267.79h0.01M639.58 270.62h0.01M618.5 271.08h0.01M626.69 264.3h0.01M622.7 270.56h0.01M639.08 269.23h0.01M634.88 273.66h0.01M598.66 271.73h0.01M606.11 271.88h0.01M620.02 262.03h0.01M615.04 268.32h0.01M608.17 269.15h0.01M611.05 271.44h0.01M622.48 272.31h0.01M599.85 265.69h0.01M607.56 272.85h0.01M650.73 266.67h0.01M609.72 270.43h0.01M642.15 269.32h0.01M600.81 270.91h0.01M623.72 270.78h0.01M637.66 269.17h0.01M627.59 271.71h0.01M614.48 270.19h0.01M616.62 270.65h0.01M606.3 267.19h0.01M615.59 272.08h0.01M625.77 270.59h0.01M646.93 268.65h0.01M618.18 270.14h0.01M640.75 272.44h0.01M616.61 274.54h0.01M605.27 271.05h0.01M626.96 262.03h0.01M645.27 269.41h0.01M601.3 274.28h0.01M636.5 270.52h0.01M613.95 265h0.01M640.27 271.67h0.01M611.3 262.03h0.01M613.08 267.88h0.01M620.74 268.86h0.01M618.75 267.1h0.01M628.18 267.39h0.01M599.97 270.94h0.01M625.87 268.87h0.01M612.78 268.8h0.01M600.42 269.77h0.01M623.27 271.39h0.01M625.1 271.55h0.01M621.7 267.8h0.01M600.4 268.8h0.01M615.52 273.1h0.01M605.35 270.01h0.01M622.65 271.89h0.01M612.41 272.23h0.01M614.21 274.07h0.01M629.63 273.72h0.01M629.56 266.16h0.01M610.34 269.95h0.01M627.2 271.91h0.01M631.14 270.13h0.01M615.17 266.06h0.01M616.2 271.77h0.01M618.81 271.18h0.01M634.49 270.1h0.01M644.33 271.54h0.01M608.96 272.48h0.01M620.49 267h0.01M605.5 271.7h0.01M602.88 270.41h0.01M622.95 267.08h0.01M609.96 268.6h0.01M621.12 271.79h0.01M606.49 271.15h0.01M601.46 274.11h0.01M636.96 271.67h0.01M619.76 269.76h0.01M618.29 263.57h0.01M614.56 265.86h0.01M627.9 263.89h0.01M621.21 266.17h0.01M611.67 268.51h0.01M611.35 263.62h0.01M613.05 268.99h0.01M621.41 268.95h0.01M610.26 270.18h0.01M669.01 271.55h0.01M595.4 225.2h0.01M602.1 230.8h0.01M599.7 249.1h0.01M602.6 248.4h0.01M608.7 255.2h0.01M601.8 256.4h0.01M613 261.8h0.01M615.6 260.8h0.01M618.4 259.8h0.01M621.2 258.9h0.01M679 267.4h0.01M665 267.6h0.01M655 268.8h0.01M646 266.2h0.01M669.8 274.2h0.01M659 272h0.01" stroke="#5b9fdc" stroke-width="2.9" fill="none" stroke-linecap="round" opacity="0.95"/>
<path d="M594.8 219.1 L594.4 225.99 L594.4 226.05 L594.4 226.42 L594.4 227.37 L594.4 228.97 L594.4 231.1 L594.4 233.5 L594.41 235.96 L594.41 238.31 L594.41 240.49 L594.41 242.48 L594.42 244.27 L594.42 245.87 L594.43 247.32 L594.43 248.62 L594.44 249.8 L594.45 250.87 L594.46 251.84 L594.46 252.73 L594.48 253.55 L594.49 254.3 L594.5 255 L594.52 255.65 L594.53 256.25 L594.55 256.81 L594.57 257.33 L594.59 257.82 L594.61 258.29 L594.64 258.72 L594.66 259.13 L594.69 259.52 L594.72 259.89 L594.75 260.24 L594.79 260.57 L594.83 260.88 L594.86 261.18 L594.9 261.47 L594.95 261.74 L594.99 262 L595.04 262.25 L595.09 262.49 L595.14 262.73 L595.2 262.95 L595.26 263.16 L595.32 263.36 L595.38 263.56 L595.45 263.75 L595.52 263.94 L595.59 264.11 L595.67 264.28 L595.75 264.45 L595.83 264.61 L595.92 264.76 L596 264.91 L596.1 265.06 L596.19 265.2 L596.29 265.34 L596.4 265.47 L596.5 265.6 L596.61 265.73 L596.73 265.85 L596.85 265.97 L596.97 266.08 L597.09 266.19 L597.22 266.3 L597.36 266.41 L597.5 266.52 L597.64 266.62 L597.79 266.72 L597.94 266.81 L598.09 266.91 L598.25 267 L598.42 267.09 L598.59 267.18 L598.76 267.26 L598.94 267.35 L599.13 267.43 L599.32 267.51 L599.51 267.59 L599.71 267.67 L599.91 267.74 L600.12 267.81 L600.34 267.89 L600.56 267.96 L600.78 268.03 L601.01 268.1 L601.25 268.16 L601.49 268.23 L601.74 268.29 L601.99 268.36 L602.25 268.42 L602.51 268.48 L602.78 268.54 L603.06 268.6 L603.34 268.66 L603.63 268.71 L603.93 268.77 L604.23 268.82 L604.53 268.88 L604.85 268.93 L605.17 268.98 L605.49 269.03 L605.82 269.08 L606.16 269.13 L606.51 269.18 L606.86 269.23 L607.22 269.28 L607.59 269.32 L607.96 269.37 L608.34 269.41 L608.73 269.46 L609.12 269.5 L609.52 269.54 L609.93 269.59 L610.35 269.63 L610.77 269.67 L611.2 269.71 L611.64 269.75 L612.09 269.79 L612.54 269.83 L613 269.87 L613.47 269.91 L613.95 269.94 L614.43 269.98 L614.92 270.02 L615.42 270.05 L615.93 270.09 L616.45 270.12 L616.97 270.16 L617.51 270.19 L618.05 270.22 L618.6 270.26 L619.16 270.29 L619.72 270.32 L620.3 270.35 L620.88 270.39 L621.48 270.42 L622.08 270.45 L622.69 270.48 L623.31 270.51 L623.94 270.54 L624.57 270.57 L625.22 270.6 L625.88 270.63 L626.54 270.65 L627.22 270.68 L627.9 270.71 L628.59 270.74 L629.3 270.76 L630.01 270.79 L630.73 270.82 L631.46 270.84 L632.2 270.87 L632.95 270.89 L633.71 270.92 L634.48 270.94 L635.26 270.97 L636.06 270.99 L636.86 271.02 L637.67 271.04 L638.49 271.07 L639.32 271.09 L640.16 271.11 L641.02 271.14 L641.88 271.16 L642.75 271.18 L643.64 271.2 L644.53 271.23 L645.44 271.25 L646.36 271.27 L647.28 271.29 L648.22 271.31 L649.17 271.33 L650.13 271.35 L651.1 271.38 L652.09 271.4 L653.08 271.42 L654.09 271.44 L655.11 271.46 L656.13 271.48 L657.17 271.5 L658.23 271.51 L659.29 271.53 L660.37 271.55 L661.45 271.57 L662.55 271.59 L663.66 271.61 L664.79 271.63 L665.92 271.65 L667.07 271.66 L668.23 271.68 L669.4 271.7 L670.59 271.72 L671.78 271.73 L672.99 271.75 L674.21 271.77 L675.45 271.79 L676.69 271.8 L677.95 271.82 L679.23 271.84" stroke="#000" stroke-width="1.5" fill="none" stroke-dasharray="5.55 2.4" stroke-linejoin="round"/>
<line x1="594.8" y1="190.7" x2="594.8" y2="209.6" stroke="#000" stroke-width="1.5" stroke-dasharray="5.55 2.4"/>
<path d="M591.8 198.2L597.6 204M591.8 204L597.6 198.2" stroke="#ee3a3f" stroke-width="1.4" fill="none" />
<path d="M591.6 263.3L597.4 269.1M591.6 269.1L597.4 263.3" stroke="#ee3a3f" stroke-width="1.4" fill="none" />
<path d="M593.5 189.1 L590.2 189.1 L590.2 210 L593.5 210" stroke="#0d0d0d" stroke-width="1.0" fill="none" />
<path d="M590.2 217.6 L590.2 281.6 L683.2 281.6" stroke="#0d0d0d" stroke-width="1.0" fill="none" />
<text x="586" y="193.1" font-size="10" text-anchor="end" fill="#1a1a1a" >17.5</text>
<text x="586" y="214" font-size="10" text-anchor="end" fill="#1a1a1a" >15.0</text>
<line x1="590.2" y1="227.55" x2="593.5" y2="227.55" stroke="#0d0d0d" stroke-width="0.9" />
<text x="586" y="231.35" font-size="10" text-anchor="end" fill="#1a1a1a" >5.0</text>
<line x1="590.2" y1="252.18" x2="593.5" y2="252.18" stroke="#0d0d0d" stroke-width="0.9" />
<text x="586" y="255.98" font-size="10" text-anchor="end" fill="#1a1a1a" >2.5</text>
<line x1="590.2" y1="276.8" x2="593.5" y2="276.8" stroke="#0d0d0d" stroke-width="0.9" />
<text x="586" y="280.6" font-size="10" text-anchor="end" fill="#1a1a1a" >0.0</text>
<line x1="594.4" y1="281.6" x2="594.4" y2="278.3" stroke="#0d0d0d" stroke-width="0.9" />
<text x="594.4" y="292" font-size="10" text-anchor="middle" fill="#1a1a1a" >0</text>
<line x1="637.9" y1="281.6" x2="637.9" y2="278.3" stroke="#0d0d0d" stroke-width="0.9" />
<text x="637.9" y="292" font-size="10" text-anchor="middle" fill="#1a1a1a" >2</text>
<line x1="681.4" y1="281.6" x2="681.4" y2="278.3" stroke="#0d0d0d" stroke-width="0.9" />
<text x="681.4" y="292" font-size="10" text-anchor="middle" fill="#1a1a1a" >4</text>
<text x="638.4" y="305" font-size="10.3" text-anchor="middle" fill="#1a1a1a" >Initial EPSP (mV)</text>
<text transform="translate(565.2 228.2) rotate(-90)" font-size="10" text-anchor="middle" fill="#1a1a1a">EPSP ratio</text>
<text x="634.2" y="166.8" font-size="10.3" text-anchor="middle" fill="#1a1a1a" >Frequency = 0.2 Hz</text>
<text x="634.2" y="177" font-size="10.3" text-anchor="middle" fill="#1a1a1a" letter-spacing="0.12">&#916;<tspan font-style="italic">t</tspan> = -15 ms</text>
<text x="558.4" y="168.9" font-size="17" text-anchor="start" fill="#1a1a1a" >g</text>
<line x1="633" y1="194.2" x2="650.6" y2="194.2" stroke="#000" stroke-width="1.5" stroke-dasharray="5.55 2.4"/>
<circle cx="641.6" cy="206.6" r="1.35" fill="#5b9fdc"/>
<path d="M639 216.2L644.2 221.4M639 221.4L644.2 216.2" stroke="#ee3a3f" stroke-width="1.2" fill="none" />
<text x="657.4" y="196.9" font-size="8.3" text-anchor="start" fill="#1a1a1a" >PL fit</text>
<text x="657.4" y="209" font-size="8.3" text-anchor="start" fill="#1a1a1a" >data</text>
<text x="657.4" y="220.6" font-size="8.3" text-anchor="start" fill="#1a1a1a" >outlier</text>
</svg>
</body>
</html>
